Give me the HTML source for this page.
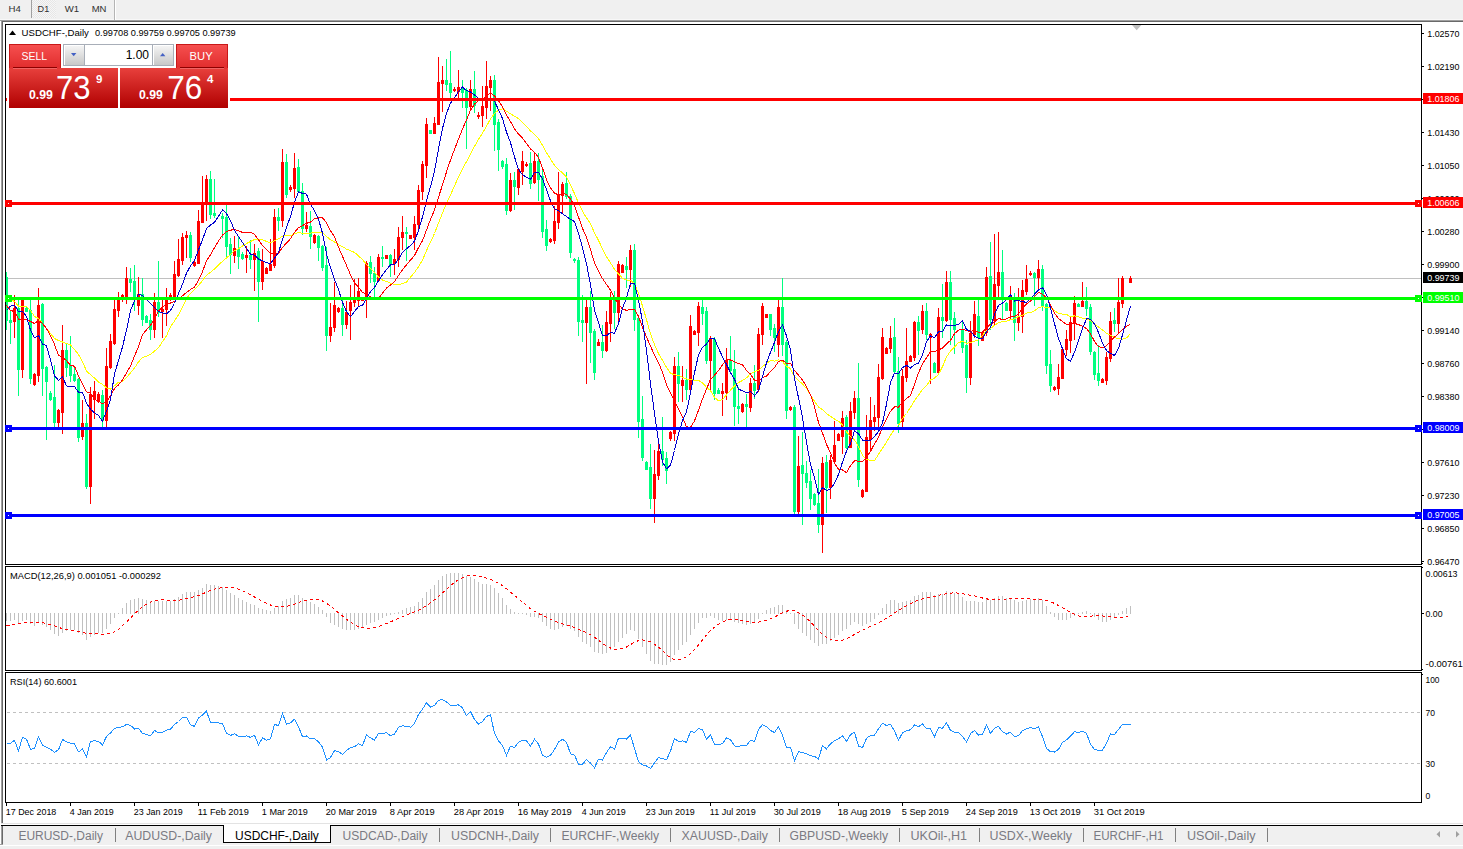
<!DOCTYPE html>
<html><head><meta charset="utf-8"><title>USDCHF-,Daily</title>
<style>html,body{margin:0;padding:0;background:#fff;overflow:hidden}svg{display:block}text{font-family:"Liberation Sans",sans-serif}</style></head><body>
<svg width="1463" height="849" viewBox="0 0 1463 849">
<defs><linearGradient id="rg" x1="0" y1="0" x2="0" y2="1"><stop offset="0" stop-color="#e8403c"/><stop offset="1" stop-color="#b00000"/></linearGradient><linearGradient id="rg2" x1="0" y1="0" x2="0" y2="1"><stop offset="0" stop-color="#f65050"/><stop offset="1" stop-color="#e02c2c"/></linearGradient><linearGradient id="bg" x1="0" y1="0" x2="0" y2="1"><stop offset="0" stop-color="#f4f4f4"/><stop offset="1" stop-color="#c8c8c8"/></linearGradient><pattern id="chk" width="2" height="2" patternUnits="userSpaceOnUse"><rect width="2" height="2" fill="#f6f6f6"/><rect width="1" height="1" fill="#e6e6e6"/><rect x="1" y="1" width="1" height="1" fill="#e6e6e6"/></pattern></defs>
<rect width="1463" height="849" fill="#fff"/>
<g id="toolbar" shape-rendering="crispEdges">
<rect x="0" y="0" width="1463" height="19" fill="#f0f0f0"/><rect x="0" y="19" width="1463" height="1" fill="#f8f8f8"/>
<rect x="0" y="20" width="1463" height="1" fill="#a0a0a0"/><rect x="1" y="21" width="1463" height="1" fill="#696969"/>
<rect x="32" y="0" width="24" height="18" fill="url(#chk)"/>
<rect x="31" y="0" width="1" height="18" fill="#a0a0a0"/><rect x="114" y="0" width="1" height="20" fill="#b4b4b4"/><rect x="115" y="0" width="1" height="20" fill="#fff"/>
</g>
<text x="8.6" y="12" font-size="9.8" fill="#303030" textLength="12.3" lengthAdjust="spacingAndGlyphs">H4</text>
<text x="37.6" y="12" font-size="9.8" fill="#303030" textLength="11.6" lengthAdjust="spacingAndGlyphs">D1</text>
<text x="64.8" y="12" font-size="9.8" fill="#303030" textLength="14.4" lengthAdjust="spacingAndGlyphs">W1</text>
<text x="91.7" y="12" font-size="9.8" fill="#303030" textLength="14.8" lengthAdjust="spacingAndGlyphs">MN</text>
<g shape-rendering="crispEdges">
<rect x="1" y="21" width="1" height="802" fill="#a0a0a0"/><rect x="2" y="22" width="1" height="801" fill="#696969"/>
<rect x="5" y="24" width="1417" height="1" fill="#000"/>
<rect x="5" y="24" width="1" height="779" fill="#000"/>
<rect x="1421" y="24" width="1" height="779" fill="#000"/>
<rect x="5" y="564" width="1417" height="1" fill="#000"/><rect x="5" y="566" width="1417" height="1" fill="#000"/>
<rect x="5" y="670" width="1417" height="1" fill="#000"/><rect x="5" y="672" width="1417" height="1" fill="#000"/>
<rect x="5" y="802" width="1417" height="1" fill="#000"/>
<rect x="5" y="565" width="1417" height="1" fill="#fff"/><rect x="5" y="671" width="1417" height="1" fill="#fff"/>
<rect x="1422" y="563" width="1" height="1" fill="#000"/><rect x="1422" y="567" width="1" height="1" fill="#000"/><rect x="1422" y="669" width="1" height="1" fill="#000"/><rect x="1422" y="674" width="1" height="1" fill="#000"/>
</g>
<g id="axis" shape-rendering="crispEdges">
<rect x="1422" y="33" width="2" height="1" fill="#000"/>
<rect x="1422" y="66" width="2" height="1" fill="#000"/>
<rect x="1422" y="99" width="2" height="1" fill="#000"/>
<rect x="1422" y="132" width="2" height="1" fill="#000"/>
<rect x="1422" y="165" width="2" height="1" fill="#000"/>
<rect x="1422" y="198" width="2" height="1" fill="#000"/>
<rect x="1422" y="231" width="2" height="1" fill="#000"/>
<rect x="1422" y="264" width="2" height="1" fill="#000"/>
<rect x="1422" y="297" width="2" height="1" fill="#000"/>
<rect x="1422" y="330" width="2" height="1" fill="#000"/>
<rect x="1422" y="363" width="2" height="1" fill="#000"/>
<rect x="1422" y="396" width="2" height="1" fill="#000"/>
<rect x="1422" y="429" width="2" height="1" fill="#000"/>
<rect x="1422" y="462" width="2" height="1" fill="#000"/>
<rect x="1422" y="495" width="2" height="1" fill="#000"/>
<rect x="1422" y="528" width="2" height="1" fill="#000"/>
<rect x="1422" y="561" width="2" height="1" fill="#000"/>
</g>
<text x="1427.2" y="36.9" font-size="9.4" fill="#000" textLength="32.3" lengthAdjust="spacingAndGlyphs">1.02570</text>
<text x="1427.2" y="69.9" font-size="9.4" fill="#000" textLength="32.3" lengthAdjust="spacingAndGlyphs">1.02190</text>
<text x="1427.2" y="102.9" font-size="9.4" fill="#000" textLength="32.3" lengthAdjust="spacingAndGlyphs">1.01810</text>
<text x="1427.2" y="135.9" font-size="9.4" fill="#000" textLength="32.3" lengthAdjust="spacingAndGlyphs">1.01430</text>
<text x="1427.2" y="168.9" font-size="9.4" fill="#000" textLength="32.3" lengthAdjust="spacingAndGlyphs">1.01050</text>
<text x="1427.2" y="201.9" font-size="9.4" fill="#000" textLength="32.3" lengthAdjust="spacingAndGlyphs">1.00660</text>
<text x="1427.2" y="234.9" font-size="9.4" fill="#000" textLength="32.3" lengthAdjust="spacingAndGlyphs">1.00280</text>
<text x="1427.2" y="267.9" font-size="9.4" fill="#000" textLength="32.3" lengthAdjust="spacingAndGlyphs">0.99900</text>
<text x="1427.2" y="300.9" font-size="9.4" fill="#000" textLength="32.3" lengthAdjust="spacingAndGlyphs">0.99520</text>
<text x="1427.2" y="333.9" font-size="9.4" fill="#000" textLength="32.3" lengthAdjust="spacingAndGlyphs">0.99140</text>
<text x="1427.2" y="366.9" font-size="9.4" fill="#000" textLength="32.3" lengthAdjust="spacingAndGlyphs">0.98760</text>
<text x="1427.2" y="399.9" font-size="9.4" fill="#000" textLength="32.3" lengthAdjust="spacingAndGlyphs">0.98380</text>
<text x="1427.2" y="432.9" font-size="9.4" fill="#000" textLength="32.3" lengthAdjust="spacingAndGlyphs">0.98000</text>
<text x="1427.2" y="465.9" font-size="9.4" fill="#000" textLength="32.3" lengthAdjust="spacingAndGlyphs">0.97610</text>
<text x="1427.2" y="498.9" font-size="9.4" fill="#000" textLength="32.3" lengthAdjust="spacingAndGlyphs">0.97230</text>
<text x="1427.2" y="531.9" font-size="9.4" fill="#000" textLength="32.3" lengthAdjust="spacingAndGlyphs">0.96850</text>
<text x="1427.2" y="564.9" font-size="9.4" fill="#000" textLength="32.3" lengthAdjust="spacingAndGlyphs">0.96470</text>
<rect x="6" y="278" width="1415" height="1" fill="#c0c0c0" shape-rendering="crispEdges"/>
<path d="M1132 25h9.4l-4.7 5.2z" fill="#c0c0c0"/>
<g id="candles" shape-rendering="crispEdges">
<rect x="6" y="272" width="1" height="58" fill="#00ff80"/>
<rect x="6" y="277" width="2" height="44" fill="#00ff80"/>
<rect x="10" y="311" width="1" height="33" fill="#00ff80"/>
<rect x="9" y="320" width="3" height="3" fill="#00ff80"/>
<rect x="14" y="295" width="1" height="43" fill="#ff0000"/>
<rect x="13" y="308" width="3" height="14" fill="#ff0000"/>
<rect x="18" y="300" width="1" height="96" fill="#00ff80"/>
<rect x="17" y="308" width="3" height="62" fill="#00ff80"/>
<rect x="22" y="297" width="1" height="81" fill="#ff0000"/>
<rect x="21" y="300" width="3" height="70" fill="#ff0000"/>
<rect x="26" y="307" width="1" height="5" fill="#00ff80"/>
<rect x="25" y="308" width="3" height="4" fill="#00ff80"/>
<rect x="30" y="300" width="1" height="84" fill="#00ff80"/>
<rect x="29" y="310" width="3" height="69" fill="#00ff80"/>
<rect x="34" y="373" width="1" height="13" fill="#ff0000"/>
<rect x="33" y="374" width="3" height="11" fill="#ff0000"/>
<rect x="38" y="288" width="1" height="94" fill="#ff0000"/>
<rect x="37" y="305" width="3" height="71" fill="#ff0000"/>
<rect x="42" y="303" width="1" height="93" fill="#00ff80"/>
<rect x="41" y="304" width="3" height="65" fill="#00ff80"/>
<rect x="46" y="366" width="1" height="74" fill="#00ff80"/>
<rect x="45" y="367" width="3" height="15" fill="#00ff80"/>
<rect x="50" y="391" width="1" height="10" fill="#00ff80"/>
<rect x="49" y="393" width="3" height="7" fill="#00ff80"/>
<rect x="54" y="365" width="1" height="63" fill="#00ff80"/>
<rect x="53" y="397" width="3" height="26" fill="#00ff80"/>
<rect x="58" y="409" width="1" height="18" fill="#ff0000"/>
<rect x="57" y="410" width="3" height="13" fill="#ff0000"/>
<rect x="62" y="325" width="1" height="109" fill="#ff0000"/>
<rect x="61" y="350" width="3" height="63" fill="#ff0000"/>
<rect x="66" y="343" width="1" height="34" fill="#00ff80"/>
<rect x="65" y="350" width="3" height="18" fill="#00ff80"/>
<rect x="70" y="336" width="1" height="46" fill="#00ff80"/>
<rect x="69" y="365" width="3" height="11" fill="#00ff80"/>
<rect x="74" y="367" width="1" height="15" fill="#00ff80"/>
<rect x="73" y="374" width="3" height="7" fill="#00ff80"/>
<rect x="78" y="378" width="1" height="64" fill="#00ff80"/>
<rect x="77" y="379" width="3" height="59" fill="#00ff80"/>
<rect x="82" y="400" width="1" height="40" fill="#ff0000"/>
<rect x="81" y="423" width="3" height="14" fill="#ff0000"/>
<rect x="86" y="414" width="1" height="75" fill="#00ff80"/>
<rect x="85" y="423" width="3" height="64" fill="#00ff80"/>
<rect x="90" y="387" width="1" height="117" fill="#ff0000"/>
<rect x="89" y="394" width="3" height="93" fill="#ff0000"/>
<rect x="94" y="381" width="1" height="38" fill="#ff0000"/>
<rect x="93" y="391" width="3" height="9" fill="#ff0000"/>
<rect x="98" y="392" width="1" height="11" fill="#ff0000"/>
<rect x="97" y="394" width="3" height="8" fill="#ff0000"/>
<rect x="102" y="390" width="1" height="38" fill="#00ff80"/>
<rect x="101" y="395" width="3" height="26" fill="#00ff80"/>
<rect x="106" y="348" width="1" height="80" fill="#ff0000"/>
<rect x="105" y="366" width="3" height="55" fill="#ff0000"/>
<rect x="110" y="334" width="1" height="35" fill="#ff0000"/>
<rect x="109" y="341" width="3" height="27" fill="#ff0000"/>
<rect x="114" y="297" width="1" height="48" fill="#ff0000"/>
<rect x="113" y="309" width="3" height="35" fill="#ff0000"/>
<rect x="118" y="292" width="1" height="25" fill="#ff0000"/>
<rect x="117" y="299" width="3" height="12" fill="#ff0000"/>
<rect x="122" y="294" width="1" height="8" fill="#ff0000"/>
<rect x="121" y="295" width="3" height="5" fill="#ff0000"/>
<rect x="126" y="267" width="1" height="37" fill="#ff0000"/>
<rect x="125" y="278" width="3" height="19" fill="#ff0000"/>
<rect x="130" y="268" width="1" height="24" fill="#00ff80"/>
<rect x="129" y="279" width="3" height="4" fill="#00ff80"/>
<rect x="134" y="265" width="1" height="46" fill="#00ff80"/>
<rect x="133" y="281" width="3" height="19" fill="#00ff80"/>
<rect x="138" y="277" width="1" height="38" fill="#ff0000"/>
<rect x="137" y="294" width="3" height="12" fill="#ff0000"/>
<rect x="142" y="278" width="1" height="48" fill="#00ff80"/>
<rect x="141" y="294" width="3" height="26" fill="#00ff80"/>
<rect x="146" y="315" width="1" height="8" fill="#00ff80"/>
<rect x="145" y="316" width="3" height="7" fill="#00ff80"/>
<rect x="150" y="314" width="1" height="26" fill="#00ff80"/>
<rect x="149" y="320" width="3" height="10" fill="#00ff80"/>
<rect x="154" y="293" width="1" height="45" fill="#ff0000"/>
<rect x="153" y="302" width="3" height="28" fill="#ff0000"/>
<rect x="158" y="261" width="1" height="56" fill="#00ff80"/>
<rect x="157" y="302" width="3" height="11" fill="#00ff80"/>
<rect x="162" y="300" width="1" height="38" fill="#ff0000"/>
<rect x="161" y="309" width="3" height="3" fill="#ff0000"/>
<rect x="166" y="288" width="1" height="38" fill="#ff0000"/>
<rect x="165" y="300" width="3" height="10" fill="#ff0000"/>
<rect x="170" y="293" width="1" height="8" fill="#ff0000"/>
<rect x="169" y="295" width="3" height="4" fill="#ff0000"/>
<rect x="174" y="261" width="1" height="37" fill="#ff0000"/>
<rect x="173" y="274" width="3" height="24" fill="#ff0000"/>
<rect x="178" y="239" width="1" height="38" fill="#ff0000"/>
<rect x="177" y="259" width="3" height="17" fill="#ff0000"/>
<rect x="182" y="233" width="1" height="32" fill="#ff0000"/>
<rect x="181" y="237" width="3" height="24" fill="#ff0000"/>
<rect x="186" y="231" width="1" height="27" fill="#ff0000"/>
<rect x="185" y="235" width="3" height="3" fill="#ff0000"/>
<rect x="190" y="232" width="1" height="30" fill="#00ff80"/>
<rect x="189" y="235" width="3" height="23" fill="#00ff80"/>
<rect x="194" y="261" width="1" height="6" fill="#ff0000"/>
<rect x="193" y="262" width="3" height="4" fill="#ff0000"/>
<rect x="198" y="210" width="1" height="54" fill="#ff0000"/>
<rect x="197" y="221" width="3" height="43" fill="#ff0000"/>
<rect x="202" y="176" width="1" height="47" fill="#ff0000"/>
<rect x="201" y="204" width="3" height="19" fill="#ff0000"/>
<rect x="206" y="175" width="1" height="46" fill="#ff0000"/>
<rect x="205" y="179" width="3" height="26" fill="#ff0000"/>
<rect x="210" y="171" width="1" height="48" fill="#00ff80"/>
<rect x="209" y="179" width="3" height="36" fill="#00ff80"/>
<rect x="214" y="179" width="1" height="39" fill="#00ff80"/>
<rect x="213" y="213" width="3" height="3" fill="#00ff80"/>
<rect x="222" y="213" width="1" height="25" fill="#00ff80"/>
<rect x="221" y="216" width="3" height="3" fill="#00ff80"/>
<rect x="226" y="205" width="1" height="52" fill="#00ff80"/>
<rect x="225" y="217" width="3" height="30" fill="#00ff80"/>
<rect x="230" y="238" width="1" height="36" fill="#00ff80"/>
<rect x="229" y="244" width="3" height="11" fill="#00ff80"/>
<rect x="234" y="236" width="1" height="27" fill="#ff0000"/>
<rect x="233" y="248" width="3" height="8" fill="#ff0000"/>
<rect x="238" y="237" width="1" height="32" fill="#00ff80"/>
<rect x="237" y="249" width="3" height="8" fill="#00ff80"/>
<rect x="242" y="252" width="1" height="8" fill="#00ff80"/>
<rect x="241" y="254" width="3" height="5" fill="#00ff80"/>
<rect x="246" y="246" width="1" height="27" fill="#ff0000"/>
<rect x="245" y="255" width="3" height="3" fill="#ff0000"/>
<rect x="250" y="240" width="1" height="29" fill="#00ff80"/>
<rect x="249" y="255" width="3" height="5" fill="#00ff80"/>
<rect x="254" y="244" width="1" height="47" fill="#ff0000"/>
<rect x="253" y="253" width="3" height="7" fill="#ff0000"/>
<rect x="258" y="248" width="1" height="74" fill="#00ff80"/>
<rect x="257" y="251" width="3" height="31" fill="#00ff80"/>
<rect x="262" y="249" width="1" height="41" fill="#ff0000"/>
<rect x="261" y="261" width="3" height="21" fill="#ff0000"/>
<rect x="266" y="267" width="1" height="7" fill="#ff0000"/>
<rect x="265" y="268" width="3" height="6" fill="#ff0000"/>
<rect x="270" y="239" width="1" height="32" fill="#ff0000"/>
<rect x="269" y="264" width="3" height="7" fill="#ff0000"/>
<rect x="274" y="209" width="1" height="59" fill="#ff0000"/>
<rect x="273" y="217" width="3" height="49" fill="#ff0000"/>
<rect x="278" y="208" width="1" height="23" fill="#00ff80"/>
<rect x="277" y="217" width="3" height="4" fill="#00ff80"/>
<rect x="282" y="149" width="1" height="78" fill="#ff0000"/>
<rect x="281" y="162" width="3" height="59" fill="#ff0000"/>
<rect x="286" y="154" width="1" height="44" fill="#00ff80"/>
<rect x="285" y="162" width="3" height="33" fill="#00ff80"/>
<rect x="290" y="185" width="1" height="7" fill="#ff0000"/>
<rect x="289" y="187" width="3" height="3" fill="#ff0000"/>
<rect x="294" y="153" width="1" height="45" fill="#ff0000"/>
<rect x="293" y="168" width="3" height="21" fill="#ff0000"/>
<rect x="298" y="159" width="1" height="34" fill="#00ff80"/>
<rect x="297" y="167" width="3" height="25" fill="#00ff80"/>
<rect x="302" y="183" width="1" height="52" fill="#00ff80"/>
<rect x="301" y="191" width="3" height="38" fill="#00ff80"/>
<rect x="306" y="212" width="1" height="20" fill="#ff0000"/>
<rect x="305" y="225" width="3" height="4" fill="#ff0000"/>
<rect x="310" y="211" width="1" height="38" fill="#00ff80"/>
<rect x="309" y="226" width="3" height="11" fill="#00ff80"/>
<rect x="314" y="234" width="1" height="10" fill="#ff0000"/>
<rect x="313" y="235" width="3" height="8" fill="#ff0000"/>
<rect x="318" y="235" width="1" height="26" fill="#00ff80"/>
<rect x="317" y="236" width="3" height="12" fill="#00ff80"/>
<rect x="322" y="245" width="1" height="26" fill="#00ff80"/>
<rect x="321" y="246" width="3" height="22" fill="#00ff80"/>
<rect x="326" y="247" width="1" height="104" fill="#00ff80"/>
<rect x="325" y="265" width="3" height="71" fill="#00ff80"/>
<rect x="330" y="303" width="1" height="39" fill="#ff0000"/>
<rect x="329" y="327" width="3" height="9" fill="#ff0000"/>
<rect x="334" y="282" width="1" height="50" fill="#ff0000"/>
<rect x="333" y="305" width="3" height="23" fill="#ff0000"/>
<rect x="338" y="307" width="1" height="6" fill="#ff0000"/>
<rect x="337" y="308" width="3" height="4" fill="#ff0000"/>
<rect x="342" y="300" width="1" height="36" fill="#00ff80"/>
<rect x="341" y="308" width="3" height="17" fill="#00ff80"/>
<rect x="346" y="301" width="1" height="28" fill="#ff0000"/>
<rect x="345" y="312" width="3" height="13" fill="#ff0000"/>
<rect x="350" y="285" width="1" height="55" fill="#ff0000"/>
<rect x="349" y="302" width="3" height="9" fill="#ff0000"/>
<rect x="354" y="279" width="1" height="28" fill="#ff0000"/>
<rect x="353" y="300" width="3" height="3" fill="#ff0000"/>
<rect x="358" y="278" width="1" height="28" fill="#ff0000"/>
<rect x="357" y="291" width="3" height="10" fill="#ff0000"/>
<rect x="362" y="297" width="1" height="4" fill="#ff0000"/>
<rect x="361" y="297" width="3" height="4" fill="#ff0000"/>
<rect x="366" y="261" width="1" height="57" fill="#ff0000"/>
<rect x="365" y="263" width="3" height="34" fill="#ff0000"/>
<rect x="370" y="256" width="1" height="27" fill="#00ff80"/>
<rect x="369" y="262" width="3" height="12" fill="#00ff80"/>
<rect x="374" y="267" width="1" height="32" fill="#00ff80"/>
<rect x="373" y="273" width="3" height="9" fill="#00ff80"/>
<rect x="378" y="254" width="1" height="28" fill="#ff0000"/>
<rect x="377" y="257" width="3" height="24" fill="#ff0000"/>
<rect x="382" y="246" width="1" height="21" fill="#00ff80"/>
<rect x="381" y="257" width="3" height="2" fill="#00ff80"/>
<rect x="386" y="255" width="1" height="4" fill="#ff0000"/>
<rect x="385" y="255" width="3" height="4" fill="#ff0000"/>
<rect x="390" y="254" width="1" height="23" fill="#00ff80"/>
<rect x="389" y="255" width="3" height="10" fill="#00ff80"/>
<rect x="394" y="249" width="1" height="26" fill="#ff0000"/>
<rect x="393" y="259" width="3" height="5" fill="#ff0000"/>
<rect x="398" y="227" width="1" height="40" fill="#ff0000"/>
<rect x="397" y="237" width="3" height="23" fill="#ff0000"/>
<rect x="402" y="216" width="1" height="34" fill="#ff0000"/>
<rect x="401" y="232" width="3" height="6" fill="#ff0000"/>
<rect x="406" y="227" width="1" height="34" fill="#00ff80"/>
<rect x="405" y="232" width="3" height="2" fill="#00ff80"/>
<rect x="410" y="235" width="1" height="4" fill="#ff0000"/>
<rect x="409" y="235" width="3" height="4" fill="#ff0000"/>
<rect x="414" y="216" width="1" height="34" fill="#ff0000"/>
<rect x="413" y="224" width="3" height="14" fill="#ff0000"/>
<rect x="418" y="185" width="1" height="46" fill="#ff0000"/>
<rect x="417" y="190" width="3" height="35" fill="#ff0000"/>
<rect x="422" y="161" width="1" height="39" fill="#ff0000"/>
<rect x="421" y="164" width="3" height="28" fill="#ff0000"/>
<rect x="426" y="118" width="1" height="60" fill="#ff0000"/>
<rect x="425" y="124" width="3" height="42" fill="#ff0000"/>
<rect x="430" y="130" width="1" height="4" fill="#00ff80"/>
<rect x="429" y="130" width="3" height="4" fill="#00ff80"/>
<rect x="434" y="117" width="1" height="17" fill="#ff0000"/>
<rect x="433" y="123" width="3" height="11" fill="#ff0000"/>
<rect x="438" y="57" width="1" height="68" fill="#ff0000"/>
<rect x="437" y="82" width="3" height="43" fill="#ff0000"/>
<rect x="442" y="66" width="1" height="46" fill="#ff0000"/>
<rect x="441" y="80" width="3" height="4" fill="#ff0000"/>
<rect x="446" y="59" width="1" height="32" fill="#00ff80"/>
<rect x="445" y="80" width="3" height="5" fill="#00ff80"/>
<rect x="450" y="51" width="1" height="49" fill="#00ff80"/>
<rect x="449" y="83" width="3" height="10" fill="#00ff80"/>
<rect x="454" y="87" width="1" height="5" fill="#ff0000"/>
<rect x="453" y="89" width="3" height="2" fill="#ff0000"/>
<rect x="458" y="70" width="1" height="28" fill="#ff0000"/>
<rect x="457" y="87" width="3" height="5" fill="#ff0000"/>
<rect x="462" y="80" width="1" height="28" fill="#00ff80"/>
<rect x="461" y="87" width="3" height="6" fill="#00ff80"/>
<rect x="466" y="88" width="1" height="61" fill="#00ff80"/>
<rect x="465" y="90" width="3" height="18" fill="#00ff80"/>
<rect x="470" y="80" width="1" height="29" fill="#ff0000"/>
<rect x="469" y="89" width="3" height="18" fill="#ff0000"/>
<rect x="474" y="71" width="1" height="42" fill="#00ff80"/>
<rect x="473" y="89" width="3" height="17" fill="#00ff80"/>
<rect x="478" y="112" width="1" height="7" fill="#ff0000"/>
<rect x="477" y="115" width="3" height="2" fill="#ff0000"/>
<rect x="482" y="86" width="1" height="41" fill="#ff0000"/>
<rect x="481" y="106" width="3" height="10" fill="#ff0000"/>
<rect x="486" y="61" width="1" height="58" fill="#ff0000"/>
<rect x="485" y="86" width="3" height="22" fill="#ff0000"/>
<rect x="490" y="76" width="1" height="35" fill="#ff0000"/>
<rect x="489" y="80" width="3" height="8" fill="#ff0000"/>
<rect x="494" y="75" width="1" height="76" fill="#00ff80"/>
<rect x="493" y="80" width="3" height="45" fill="#00ff80"/>
<rect x="498" y="119" width="1" height="52" fill="#00ff80"/>
<rect x="497" y="122" width="3" height="28" fill="#00ff80"/>
<rect x="502" y="160" width="1" height="9" fill="#00ff80"/>
<rect x="501" y="161" width="3" height="6" fill="#00ff80"/>
<rect x="506" y="158" width="1" height="57" fill="#00ff80"/>
<rect x="505" y="164" width="3" height="47" fill="#00ff80"/>
<rect x="510" y="173" width="1" height="39" fill="#ff0000"/>
<rect x="509" y="180" width="3" height="31" fill="#ff0000"/>
<rect x="514" y="172" width="1" height="38" fill="#00ff80"/>
<rect x="513" y="180" width="3" height="7" fill="#00ff80"/>
<rect x="518" y="168" width="1" height="27" fill="#ff0000"/>
<rect x="517" y="169" width="3" height="19" fill="#ff0000"/>
<rect x="522" y="151" width="1" height="34" fill="#ff0000"/>
<rect x="521" y="161" width="3" height="11" fill="#ff0000"/>
<rect x="526" y="162" width="1" height="5" fill="#ff0000"/>
<rect x="525" y="164" width="3" height="2" fill="#ff0000"/>
<rect x="530" y="152" width="1" height="37" fill="#00ff80"/>
<rect x="529" y="163" width="3" height="21" fill="#00ff80"/>
<rect x="534" y="153" width="1" height="31" fill="#ff0000"/>
<rect x="533" y="161" width="3" height="22" fill="#ff0000"/>
<rect x="538" y="153" width="1" height="48" fill="#00ff80"/>
<rect x="537" y="161" width="3" height="19" fill="#00ff80"/>
<rect x="542" y="170" width="1" height="68" fill="#00ff80"/>
<rect x="541" y="176" width="3" height="56" fill="#00ff80"/>
<rect x="546" y="220" width="1" height="31" fill="#00ff80"/>
<rect x="545" y="229" width="3" height="17" fill="#00ff80"/>
<rect x="550" y="238" width="1" height="5" fill="#ff0000"/>
<rect x="549" y="239" width="3" height="3" fill="#ff0000"/>
<rect x="554" y="206" width="1" height="38" fill="#ff0000"/>
<rect x="553" y="221" width="3" height="20" fill="#ff0000"/>
<rect x="558" y="172" width="1" height="57" fill="#ff0000"/>
<rect x="557" y="195" width="3" height="28" fill="#ff0000"/>
<rect x="562" y="182" width="1" height="32" fill="#ff0000"/>
<rect x="561" y="184" width="3" height="12" fill="#ff0000"/>
<rect x="566" y="172" width="1" height="27" fill="#00ff80"/>
<rect x="565" y="183" width="3" height="14" fill="#00ff80"/>
<rect x="570" y="194" width="1" height="64" fill="#00ff80"/>
<rect x="569" y="196" width="3" height="57" fill="#00ff80"/>
<rect x="574" y="258" width="1" height="5" fill="#00ff80"/>
<rect x="573" y="259" width="3" height="2" fill="#00ff80"/>
<rect x="578" y="257" width="1" height="79" fill="#00ff80"/>
<rect x="577" y="260" width="3" height="62" fill="#00ff80"/>
<rect x="582" y="295" width="1" height="47" fill="#00ff80"/>
<rect x="581" y="320" width="3" height="3" fill="#00ff80"/>
<rect x="586" y="300" width="1" height="84" fill="#ff0000"/>
<rect x="585" y="307" width="3" height="16" fill="#ff0000"/>
<rect x="590" y="291" width="1" height="72" fill="#00ff80"/>
<rect x="589" y="307" width="3" height="26" fill="#00ff80"/>
<rect x="594" y="329" width="1" height="51" fill="#00ff80"/>
<rect x="593" y="331" width="3" height="42" fill="#00ff80"/>
<rect x="598" y="339" width="1" height="7" fill="#ff0000"/>
<rect x="597" y="342" width="3" height="4" fill="#ff0000"/>
<rect x="602" y="325" width="1" height="33" fill="#00ff80"/>
<rect x="601" y="342" width="3" height="9" fill="#00ff80"/>
<rect x="606" y="311" width="1" height="41" fill="#ff0000"/>
<rect x="605" y="322" width="3" height="29" fill="#ff0000"/>
<rect x="610" y="292" width="1" height="50" fill="#ff0000"/>
<rect x="609" y="299" width="3" height="25" fill="#ff0000"/>
<rect x="614" y="291" width="1" height="38" fill="#00ff80"/>
<rect x="613" y="300" width="3" height="13" fill="#00ff80"/>
<rect x="618" y="261" width="1" height="61" fill="#ff0000"/>
<rect x="617" y="264" width="3" height="49" fill="#ff0000"/>
<rect x="622" y="264" width="1" height="9" fill="#ff0000"/>
<rect x="621" y="265" width="3" height="8" fill="#ff0000"/>
<rect x="626" y="257" width="1" height="31" fill="#00ff80"/>
<rect x="625" y="266" width="3" height="4" fill="#00ff80"/>
<rect x="630" y="245" width="1" height="42" fill="#ff0000"/>
<rect x="629" y="250" width="3" height="20" fill="#ff0000"/>
<rect x="634" y="244" width="1" height="87" fill="#00ff80"/>
<rect x="633" y="250" width="3" height="70" fill="#00ff80"/>
<rect x="638" y="316" width="1" height="122" fill="#00ff80"/>
<rect x="637" y="318" width="3" height="104" fill="#00ff80"/>
<rect x="642" y="396" width="1" height="65" fill="#00ff80"/>
<rect x="641" y="419" width="3" height="39" fill="#00ff80"/>
<rect x="646" y="461" width="1" height="9" fill="#00ff80"/>
<rect x="645" y="462" width="3" height="8" fill="#00ff80"/>
<rect x="650" y="444" width="1" height="65" fill="#00ff80"/>
<rect x="649" y="467" width="3" height="32" fill="#00ff80"/>
<rect x="654" y="450" width="1" height="73" fill="#ff0000"/>
<rect x="653" y="474" width="3" height="25" fill="#ff0000"/>
<rect x="658" y="443" width="1" height="37" fill="#ff0000"/>
<rect x="657" y="451" width="3" height="25" fill="#ff0000"/>
<rect x="662" y="417" width="1" height="49" fill="#00ff80"/>
<rect x="661" y="451" width="3" height="9" fill="#00ff80"/>
<rect x="666" y="452" width="1" height="32" fill="#00ff80"/>
<rect x="665" y="458" width="3" height="13" fill="#00ff80"/>
<rect x="670" y="431" width="1" height="10" fill="#ff0000"/>
<rect x="669" y="432" width="3" height="7" fill="#ff0000"/>
<rect x="674" y="357" width="1" height="84" fill="#ff0000"/>
<rect x="673" y="366" width="3" height="68" fill="#ff0000"/>
<rect x="678" y="352" width="1" height="50" fill="#00ff80"/>
<rect x="677" y="366" width="3" height="18" fill="#00ff80"/>
<rect x="682" y="366" width="1" height="36" fill="#ff0000"/>
<rect x="681" y="380" width="3" height="6" fill="#ff0000"/>
<rect x="686" y="369" width="1" height="31" fill="#00ff80"/>
<rect x="685" y="380" width="3" height="10" fill="#00ff80"/>
<rect x="690" y="315" width="1" height="76" fill="#ff0000"/>
<rect x="689" y="326" width="3" height="64" fill="#ff0000"/>
<rect x="694" y="330" width="1" height="5" fill="#ff0000"/>
<rect x="693" y="331" width="3" height="4" fill="#ff0000"/>
<rect x="698" y="302" width="1" height="44" fill="#ff0000"/>
<rect x="697" y="306" width="3" height="27" fill="#ff0000"/>
<rect x="702" y="300" width="1" height="25" fill="#00ff80"/>
<rect x="701" y="307" width="3" height="7" fill="#00ff80"/>
<rect x="706" y="307" width="1" height="57" fill="#00ff80"/>
<rect x="705" y="311" width="3" height="50" fill="#00ff80"/>
<rect x="710" y="336" width="1" height="54" fill="#ff0000"/>
<rect x="709" y="338" width="3" height="23" fill="#ff0000"/>
<rect x="714" y="337" width="1" height="63" fill="#00ff80"/>
<rect x="713" y="339" width="3" height="55" fill="#00ff80"/>
<rect x="718" y="388" width="1" height="6" fill="#00ff80"/>
<rect x="717" y="390" width="3" height="4" fill="#00ff80"/>
<rect x="722" y="383" width="1" height="33" fill="#ff0000"/>
<rect x="721" y="391" width="3" height="3" fill="#ff0000"/>
<rect x="726" y="348" width="1" height="52" fill="#ff0000"/>
<rect x="725" y="360" width="3" height="33" fill="#ff0000"/>
<rect x="730" y="336" width="1" height="37" fill="#00ff80"/>
<rect x="729" y="360" width="3" height="11" fill="#00ff80"/>
<rect x="734" y="350" width="1" height="76" fill="#00ff80"/>
<rect x="733" y="369" width="3" height="38" fill="#00ff80"/>
<rect x="738" y="387" width="1" height="37" fill="#00ff80"/>
<rect x="737" y="406" width="3" height="3" fill="#00ff80"/>
<rect x="742" y="403" width="1" height="10" fill="#ff0000"/>
<rect x="741" y="404" width="3" height="8" fill="#ff0000"/>
<rect x="746" y="394" width="1" height="34" fill="#00ff80"/>
<rect x="745" y="404" width="3" height="3" fill="#00ff80"/>
<rect x="750" y="378" width="1" height="34" fill="#ff0000"/>
<rect x="749" y="383" width="3" height="25" fill="#ff0000"/>
<rect x="754" y="365" width="1" height="34" fill="#00ff80"/>
<rect x="753" y="383" width="3" height="8" fill="#00ff80"/>
<rect x="758" y="328" width="1" height="64" fill="#ff0000"/>
<rect x="757" y="334" width="3" height="56" fill="#ff0000"/>
<rect x="762" y="303" width="1" height="42" fill="#ff0000"/>
<rect x="761" y="306" width="3" height="29" fill="#ff0000"/>
<rect x="766" y="314" width="1" height="4" fill="#ff0000"/>
<rect x="765" y="314" width="3" height="4" fill="#ff0000"/>
<rect x="770" y="314" width="1" height="22" fill="#00ff80"/>
<rect x="769" y="314" width="3" height="16" fill="#00ff80"/>
<rect x="774" y="324" width="1" height="28" fill="#00ff80"/>
<rect x="773" y="328" width="3" height="10" fill="#00ff80"/>
<rect x="778" y="300" width="1" height="57" fill="#ff0000"/>
<rect x="777" y="307" width="3" height="38" fill="#ff0000"/>
<rect x="782" y="278" width="1" height="78" fill="#00ff80"/>
<rect x="781" y="307" width="3" height="38" fill="#00ff80"/>
<rect x="786" y="340" width="1" height="79" fill="#00ff80"/>
<rect x="785" y="342" width="3" height="69" fill="#00ff80"/>
<rect x="790" y="406" width="1" height="5" fill="#ff0000"/>
<rect x="789" y="407" width="3" height="3" fill="#ff0000"/>
<rect x="794" y="405" width="1" height="110" fill="#00ff80"/>
<rect x="793" y="407" width="3" height="105" fill="#00ff80"/>
<rect x="798" y="436" width="1" height="78" fill="#ff0000"/>
<rect x="797" y="466" width="3" height="46" fill="#ff0000"/>
<rect x="802" y="432" width="1" height="93" fill="#00ff80"/>
<rect x="801" y="465" width="3" height="9" fill="#00ff80"/>
<rect x="806" y="461" width="1" height="27" fill="#00ff80"/>
<rect x="805" y="473" width="3" height="10" fill="#00ff80"/>
<rect x="810" y="470" width="1" height="40" fill="#00ff80"/>
<rect x="809" y="481" width="3" height="18" fill="#00ff80"/>
<rect x="814" y="493" width="1" height="13" fill="#00ff80"/>
<rect x="813" y="494" width="3" height="11" fill="#00ff80"/>
<rect x="818" y="469" width="1" height="64" fill="#00ff80"/>
<rect x="817" y="503" width="3" height="22" fill="#00ff80"/>
<rect x="822" y="457" width="1" height="96" fill="#ff0000"/>
<rect x="821" y="463" width="3" height="62" fill="#ff0000"/>
<rect x="826" y="455" width="1" height="58" fill="#00ff80"/>
<rect x="825" y="462" width="3" height="26" fill="#00ff80"/>
<rect x="830" y="455" width="1" height="44" fill="#ff0000"/>
<rect x="829" y="460" width="3" height="28" fill="#ff0000"/>
<rect x="834" y="421" width="1" height="42" fill="#ff0000"/>
<rect x="833" y="445" width="3" height="17" fill="#ff0000"/>
<rect x="838" y="433" width="1" height="8" fill="#ff0000"/>
<rect x="837" y="434" width="3" height="7" fill="#ff0000"/>
<rect x="842" y="411" width="1" height="43" fill="#ff0000"/>
<rect x="841" y="418" width="3" height="19" fill="#ff0000"/>
<rect x="846" y="415" width="1" height="34" fill="#00ff80"/>
<rect x="845" y="417" width="3" height="31" fill="#00ff80"/>
<rect x="850" y="402" width="1" height="46" fill="#ff0000"/>
<rect x="849" y="411" width="3" height="37" fill="#ff0000"/>
<rect x="854" y="391" width="1" height="28" fill="#ff0000"/>
<rect x="853" y="398" width="3" height="15" fill="#ff0000"/>
<rect x="858" y="363" width="1" height="124" fill="#00ff80"/>
<rect x="857" y="398" width="3" height="82" fill="#00ff80"/>
<rect x="862" y="489" width="1" height="9" fill="#ff0000"/>
<rect x="861" y="490" width="3" height="7" fill="#ff0000"/>
<rect x="866" y="415" width="1" height="77" fill="#ff0000"/>
<rect x="865" y="437" width="3" height="55" fill="#ff0000"/>
<rect x="870" y="397" width="1" height="54" fill="#ff0000"/>
<rect x="869" y="420" width="3" height="20" fill="#ff0000"/>
<rect x="874" y="405" width="1" height="26" fill="#ff0000"/>
<rect x="873" y="417" width="3" height="5" fill="#ff0000"/>
<rect x="878" y="364" width="1" height="67" fill="#ff0000"/>
<rect x="877" y="377" width="3" height="41" fill="#ff0000"/>
<rect x="882" y="328" width="1" height="52" fill="#ff0000"/>
<rect x="881" y="337" width="3" height="42" fill="#ff0000"/>
<rect x="886" y="347" width="1" height="7" fill="#ff0000"/>
<rect x="885" y="348" width="3" height="6" fill="#ff0000"/>
<rect x="890" y="326" width="1" height="27" fill="#ff0000"/>
<rect x="889" y="338" width="3" height="11" fill="#ff0000"/>
<rect x="894" y="318" width="1" height="56" fill="#00ff80"/>
<rect x="893" y="337" width="3" height="35" fill="#00ff80"/>
<rect x="898" y="357" width="1" height="76" fill="#00ff80"/>
<rect x="897" y="371" width="3" height="53" fill="#00ff80"/>
<rect x="902" y="369" width="1" height="58" fill="#ff0000"/>
<rect x="901" y="376" width="3" height="46" fill="#ff0000"/>
<rect x="906" y="328" width="1" height="54" fill="#ff0000"/>
<rect x="905" y="361" width="3" height="17" fill="#ff0000"/>
<rect x="910" y="355" width="1" height="7" fill="#ff0000"/>
<rect x="909" y="356" width="3" height="6" fill="#ff0000"/>
<rect x="914" y="321" width="1" height="40" fill="#ff0000"/>
<rect x="913" y="322" width="3" height="36" fill="#ff0000"/>
<rect x="918" y="316" width="1" height="39" fill="#00ff80"/>
<rect x="917" y="322" width="3" height="9" fill="#00ff80"/>
<rect x="922" y="305" width="1" height="29" fill="#ff0000"/>
<rect x="921" y="311" width="3" height="19" fill="#ff0000"/>
<rect x="926" y="303" width="1" height="37" fill="#00ff80"/>
<rect x="925" y="311" width="3" height="24" fill="#00ff80"/>
<rect x="930" y="333" width="1" height="51" fill="#ff0000"/>
<rect x="929" y="334" width="3" height="4" fill="#ff0000"/>
<rect x="934" y="362" width="1" height="11" fill="#00ff80"/>
<rect x="933" y="363" width="3" height="10" fill="#00ff80"/>
<rect x="938" y="308" width="1" height="67" fill="#ff0000"/>
<rect x="937" y="317" width="3" height="56" fill="#ff0000"/>
<rect x="942" y="284" width="1" height="54" fill="#00ff80"/>
<rect x="941" y="317" width="3" height="4" fill="#00ff80"/>
<rect x="946" y="271" width="1" height="51" fill="#ff0000"/>
<rect x="945" y="282" width="3" height="39" fill="#ff0000"/>
<rect x="950" y="271" width="1" height="74" fill="#00ff80"/>
<rect x="949" y="282" width="3" height="38" fill="#00ff80"/>
<rect x="954" y="312" width="1" height="42" fill="#00ff80"/>
<rect x="953" y="318" width="3" height="12" fill="#00ff80"/>
<rect x="962" y="321" width="1" height="32" fill="#00ff80"/>
<rect x="961" y="330" width="3" height="18" fill="#00ff80"/>
<rect x="966" y="340" width="1" height="53" fill="#00ff80"/>
<rect x="965" y="345" width="3" height="33" fill="#00ff80"/>
<rect x="970" y="321" width="1" height="64" fill="#ff0000"/>
<rect x="969" y="333" width="3" height="45" fill="#ff0000"/>
<rect x="974" y="301" width="1" height="37" fill="#ff0000"/>
<rect x="973" y="314" width="3" height="21" fill="#ff0000"/>
<rect x="978" y="300" width="1" height="46" fill="#00ff80"/>
<rect x="977" y="316" width="3" height="22" fill="#00ff80"/>
<rect x="982" y="331" width="1" height="10" fill="#ff0000"/>
<rect x="981" y="332" width="3" height="9" fill="#ff0000"/>
<rect x="986" y="267" width="1" height="69" fill="#ff0000"/>
<rect x="985" y="277" width="3" height="56" fill="#ff0000"/>
<rect x="990" y="242" width="1" height="88" fill="#00ff80"/>
<rect x="989" y="276" width="3" height="44" fill="#00ff80"/>
<rect x="994" y="234" width="1" height="92" fill="#ff0000"/>
<rect x="993" y="284" width="3" height="37" fill="#ff0000"/>
<rect x="998" y="232" width="1" height="66" fill="#ff0000"/>
<rect x="997" y="272" width="3" height="14" fill="#ff0000"/>
<rect x="1002" y="250" width="1" height="70" fill="#00ff80"/>
<rect x="1001" y="272" width="3" height="27" fill="#00ff80"/>
<rect x="1006" y="302" width="1" height="9" fill="#00ff80"/>
<rect x="1005" y="303" width="3" height="8" fill="#00ff80"/>
<rect x="1010" y="286" width="1" height="33" fill="#ff0000"/>
<rect x="1009" y="299" width="3" height="12" fill="#ff0000"/>
<rect x="1014" y="293" width="1" height="48" fill="#00ff80"/>
<rect x="1013" y="300" width="3" height="23" fill="#00ff80"/>
<rect x="1018" y="288" width="1" height="43" fill="#ff0000"/>
<rect x="1017" y="316" width="3" height="7" fill="#ff0000"/>
<rect x="1022" y="280" width="1" height="53" fill="#ff0000"/>
<rect x="1021" y="290" width="3" height="27" fill="#ff0000"/>
<rect x="1026" y="265" width="1" height="30" fill="#ff0000"/>
<rect x="1025" y="279" width="3" height="13" fill="#ff0000"/>
<rect x="1030" y="271" width="1" height="5" fill="#ff0000"/>
<rect x="1029" y="273" width="3" height="2" fill="#ff0000"/>
<rect x="1034" y="272" width="1" height="34" fill="#00ff80"/>
<rect x="1033" y="273" width="3" height="5" fill="#00ff80"/>
<rect x="1038" y="260" width="1" height="30" fill="#ff0000"/>
<rect x="1037" y="269" width="3" height="9" fill="#ff0000"/>
<rect x="1042" y="265" width="1" height="46" fill="#00ff80"/>
<rect x="1041" y="269" width="3" height="38" fill="#00ff80"/>
<rect x="1046" y="303" width="1" height="71" fill="#00ff80"/>
<rect x="1045" y="304" width="3" height="62" fill="#00ff80"/>
<rect x="1050" y="350" width="1" height="42" fill="#00ff80"/>
<rect x="1049" y="364" width="3" height="22" fill="#00ff80"/>
<rect x="1054" y="386" width="1" height="5" fill="#ff0000"/>
<rect x="1053" y="387" width="3" height="3" fill="#ff0000"/>
<rect x="1058" y="364" width="1" height="31" fill="#ff0000"/>
<rect x="1057" y="377" width="3" height="12" fill="#ff0000"/>
<rect x="1062" y="348" width="1" height="31" fill="#ff0000"/>
<rect x="1061" y="349" width="3" height="30" fill="#ff0000"/>
<rect x="1066" y="330" width="1" height="26" fill="#ff0000"/>
<rect x="1065" y="339" width="3" height="11" fill="#ff0000"/>
<rect x="1070" y="316" width="1" height="37" fill="#ff0000"/>
<rect x="1069" y="322" width="3" height="19" fill="#ff0000"/>
<rect x="1074" y="296" width="1" height="44" fill="#ff0000"/>
<rect x="1073" y="303" width="3" height="21" fill="#ff0000"/>
<rect x="1078" y="303" width="1" height="4" fill="#00ff80"/>
<rect x="1077" y="304" width="3" height="3" fill="#00ff80"/>
<rect x="1082" y="282" width="1" height="25" fill="#ff0000"/>
<rect x="1081" y="301" width="3" height="6" fill="#ff0000"/>
<rect x="1086" y="287" width="1" height="29" fill="#00ff80"/>
<rect x="1085" y="301" width="3" height="8" fill="#00ff80"/>
<rect x="1090" y="304" width="1" height="51" fill="#00ff80"/>
<rect x="1089" y="307" width="3" height="45" fill="#00ff80"/>
<rect x="1094" y="351" width="1" height="29" fill="#00ff80"/>
<rect x="1093" y="352" width="3" height="23" fill="#00ff80"/>
<rect x="1098" y="345" width="1" height="41" fill="#00ff80"/>
<rect x="1097" y="373" width="3" height="8" fill="#00ff80"/>
<rect x="1102" y="378" width="1" height="5" fill="#ff0000"/>
<rect x="1101" y="379" width="3" height="4" fill="#ff0000"/>
<rect x="1106" y="352" width="1" height="33" fill="#ff0000"/>
<rect x="1105" y="357" width="3" height="24" fill="#ff0000"/>
<rect x="1110" y="312" width="1" height="50" fill="#ff0000"/>
<rect x="1109" y="321" width="3" height="38" fill="#ff0000"/>
<rect x="1114" y="308" width="1" height="24" fill="#00ff80"/>
<rect x="1113" y="320" width="3" height="4" fill="#00ff80"/>
<rect x="1118" y="278" width="1" height="56" fill="#ff0000"/>
<rect x="1117" y="302" width="3" height="22" fill="#ff0000"/>
<rect x="1122" y="276" width="1" height="32" fill="#ff0000"/>
<rect x="1121" y="278" width="3" height="26" fill="#ff0000"/>
<rect x="1130" y="276" width="1" height="7" fill="#ff0000"/>
<rect x="1129" y="278" width="3" height="5" fill="#ff0000"/>
</g>
<polyline points="6.5,298.5 10.5,299.5 14.5,301.5 18.5,306.1 22.5,306.5 26.5,306.5 30.5,310.5 34.5,316.5 38.5,318.5 42.5,323.5 46.5,328.5 50.5,333.5 54.5,338.5 58.5,340.5 62.5,342.0 66.5,343.5 70.5,345.0 74.5,349.5 78.5,354.5 82.5,361.5 86.5,371.2 90.5,374.7 94.5,378.0 98.5,382.1 102.5,384.5 106.5,387.7 110.5,389.1 114.5,385.8 118.5,382.3 122.5,381.8 126.5,377.5 130.5,372.8 134.5,368.0 138.5,361.9 142.5,357.6 146.5,356.3 150.5,354.5 154.5,351.0 158.5,347.7 162.5,341.6 166.5,335.8 170.5,326.7 174.5,321.0 178.5,314.7 182.5,307.2 186.5,298.4 190.5,293.2 194.5,289.5 198.5,285.3 202.5,280.7 206.5,275.2 210.5,272.2 214.5,269.0 218.5,265.0 222.5,261.4 226.5,257.9 230.5,254.6 234.5,250.8 238.5,248.6 242.5,246.0 246.5,243.5 250.5,241.5 254.5,239.5 258.5,239.8 262.5,239.9 266.5,241.4 270.5,242.8 274.5,240.9 278.5,238.9 282.5,236.1 286.5,235.6 290.5,236.0 294.5,233.8 298.5,232.6 302.5,233.3 306.5,233.6 310.5,233.1 314.5,232.2 318.5,232.2 322.5,232.7 326.5,236.4 330.5,239.8 334.5,242.0 338.5,244.6 342.5,246.6 346.5,249.1 350.5,250.7 354.5,252.4 358.5,255.9 362.5,259.6 366.5,264.4 370.5,268.2 374.5,272.6 378.5,276.9 382.5,280.1 386.5,281.4 390.5,283.2 394.5,284.3 398.5,284.4 402.5,283.7 406.5,282.1 410.5,277.3 414.5,272.4 418.5,266.9 422.5,260.1 426.5,250.5 430.5,242.0 434.5,233.5 438.5,223.1 442.5,213.1 446.5,202.9 450.5,194.8 454.5,186.0 458.5,176.8 462.5,168.9 466.5,161.7 470.5,153.8 474.5,146.3 478.5,139.4 482.5,133.2 486.5,126.2 490.5,118.9 494.5,113.6 498.5,110.1 502.5,108.9 506.5,111.1 510.5,113.8 514.5,116.3 518.5,118.5 522.5,122.3 526.5,126.3 530.5,131.0 534.5,134.3 538.5,138.5 542.5,145.4 546.5,152.7 550.5,159.0 554.5,165.3 558.5,169.5 562.5,172.8 566.5,177.1 570.5,185.0 574.5,193.6 578.5,203.0 582.5,211.2 586.5,217.9 590.5,223.7 594.5,232.9 598.5,240.3 602.5,248.9 606.5,256.6 610.5,263.0 614.5,269.2 618.5,274.1 622.5,278.2 626.5,280.0 630.5,280.2 634.5,284.0 638.5,293.5 642.5,306.0 646.5,319.6 650.5,334.0 654.5,344.5 658.5,353.6 662.5,360.2 666.5,367.3 670.5,373.2 674.5,374.8 678.5,375.4 682.5,377.2 686.5,379.0 690.5,379.2 694.5,380.7 698.5,380.5 702.5,382.8 706.5,387.3 710.5,390.6 714.5,397.4 718.5,400.9 722.5,399.5 726.5,394.9 730.5,390.2 734.5,385.8 738.5,382.6 742.5,380.4 746.5,377.9 750.5,373.7 754.5,371.7 758.5,370.2 762.5,366.5 766.5,363.4 770.5,360.5 774.5,361.1 778.5,359.9 782.5,361.7 786.5,366.4 790.5,368.6 794.5,376.8 798.5,380.3 802.5,384.1 806.5,388.5 810.5,395.0 814.5,401.4 818.5,407.0 822.5,409.6 826.5,413.6 830.5,416.2 834.5,419.1 838.5,421.2 842.5,425.2 846.5,431.9 850.5,436.5 854.5,439.8 858.5,446.6 862.5,455.3 866.5,459.7 870.5,460.2 874.5,460.7 878.5,454.3 882.5,448.2 886.5,442.2 890.5,435.4 894.5,429.3 898.5,425.5 902.5,418.4 906.5,413.5 910.5,407.3 914.5,400.7 918.5,395.3 922.5,389.4 926.5,385.4 930.5,380.0 934.5,378.2 938.5,374.3 942.5,366.7 946.5,356.8 950.5,351.2 954.5,346.9 958.5,342.7 962.5,341.3 966.5,343.2 970.5,342.5 974.5,341.3 978.5,339.7 982.5,335.4 986.5,330.6 990.5,328.6 994.5,325.2 998.5,322.8 1002.5,321.3 1006.5,321.3 1010.5,319.6 1014.5,319.0 1018.5,316.4 1022.5,315.1 1026.5,313.1 1030.5,312.7 1034.5,310.7 1038.5,307.8 1042.5,306.7 1046.5,307.6 1050.5,308.0 1054.5,310.5 1058.5,313.5 1062.5,314.1 1066.5,314.5 1070.5,316.6 1074.5,315.8 1078.5,316.9 1082.5,318.3 1086.5,318.7 1090.5,320.7 1094.5,324.3 1098.5,327.0 1102.5,330.0 1106.5,333.2 1110.5,335.2 1114.5,337.6 1118.5,338.8 1122.5,339.2 1126.5,337.9 1130.5,333.7" fill="none" stroke="#ffff00" stroke-width="1" shape-rendering="crispEdges"/>
<polyline points="6.5,305.5 10.5,310.5 14.5,311.5 18.5,319.1 22.5,319.5 26.5,319.5 30.5,321.5 34.5,323.5 38.5,320.5 42.5,323.5 46.5,328.5 50.5,335.5 54.5,344.5 58.5,355.3 62.5,357.4 66.5,360.6 70.5,365.4 74.5,366.2 78.5,376.0 82.5,384.0 86.5,391.7 90.5,393.1 94.5,399.3 98.5,401.1 102.5,403.9 106.5,401.6 110.5,395.8 114.5,388.6 118.5,384.9 122.5,379.8 126.5,372.9 130.5,365.9 134.5,356.0 138.5,346.8 142.5,334.9 146.5,329.7 150.5,325.3 154.5,318.7 158.5,311.0 162.5,306.9 166.5,304.0 170.5,303.0 174.5,301.2 178.5,298.6 182.5,295.7 186.5,292.4 190.5,289.4 194.5,287.1 198.5,280.1 202.5,271.6 206.5,260.9 210.5,254.6 214.5,247.7 218.5,241.0 222.5,235.1 226.5,231.6 230.5,230.2 234.5,229.4 238.5,230.8 242.5,232.4 246.5,232.3 250.5,232.1 254.5,234.4 258.5,239.9 262.5,245.7 266.5,249.6 270.5,253.1 274.5,253.2 278.5,253.4 282.5,247.4 286.5,243.1 290.5,238.7 294.5,232.4 298.5,227.6 302.5,225.7 306.5,223.3 310.5,222.1 314.5,218.8 318.5,217.8 322.5,217.7 326.5,222.8 330.5,230.6 334.5,236.7 338.5,247.1 342.5,256.4 346.5,265.4 350.5,274.9 354.5,282.7 358.5,287.2 362.5,292.4 366.5,294.3 370.5,297.0 374.5,299.4 378.5,298.7 382.5,293.2 386.5,288.1 390.5,285.1 394.5,281.6 398.5,275.4 402.5,269.7 406.5,264.8 410.5,260.1 414.5,255.4 418.5,247.7 422.5,240.6 426.5,230.0 430.5,219.4 434.5,209.9 438.5,197.3 442.5,184.8 446.5,171.9 450.5,160.0 454.5,149.4 458.5,139.1 462.5,129.0 466.5,119.9 470.5,110.2 474.5,104.1 478.5,100.6 482.5,99.4 486.5,96.0 490.5,92.9 494.5,95.9 498.5,100.9 502.5,106.7 506.5,115.1 510.5,121.6 514.5,128.7 518.5,134.2 522.5,138.1 526.5,143.4 530.5,149.0 534.5,152.3 538.5,157.5 542.5,167.9 546.5,179.6 550.5,187.9 554.5,193.0 558.5,195.1 562.5,193.2 566.5,194.4 570.5,199.1 574.5,205.6 578.5,217.0 582.5,228.3 586.5,237.1 590.5,249.4 594.5,263.1 598.5,271.1 602.5,278.6 606.5,284.5 610.5,290.1 614.5,298.4 618.5,304.1 622.5,309.1 626.5,310.3 630.5,309.6 634.5,309.4 638.5,316.5 642.5,327.2 646.5,337.0 650.5,346.0 654.5,355.4 658.5,362.6 662.5,372.4 666.5,384.6 670.5,393.2 674.5,400.5 678.5,408.9 682.5,416.9 686.5,426.8 690.5,427.3 694.5,420.9 698.5,410.1 702.5,398.9 706.5,389.1 710.5,379.4 714.5,375.2 718.5,370.5 722.5,364.9 726.5,359.7 730.5,360.0 734.5,361.6 738.5,363.6 742.5,364.7 746.5,370.4 750.5,374.1 754.5,380.1 758.5,381.6 762.5,377.8 766.5,376.1 770.5,371.5 774.5,367.5 778.5,361.5 782.5,360.4 786.5,363.2 790.5,363.3 794.5,370.6 798.5,375.1 802.5,379.9 806.5,386.9 810.5,394.6 814.5,406.8 818.5,422.4 822.5,433.0 826.5,444.3 830.5,453.1 834.5,462.9 838.5,469.4 842.5,469.9 846.5,472.8 850.5,465.6 854.5,460.8 858.5,461.2 862.5,461.8 866.5,457.4 870.5,451.4 874.5,443.8 878.5,437.6 882.5,426.9 886.5,418.9 890.5,411.3 894.5,406.8 898.5,407.1 902.5,402.1 906.5,398.5 910.5,395.5 914.5,384.3 918.5,372.9 922.5,363.9 926.5,357.7 930.5,351.8 934.5,351.4 938.5,350.0 942.5,348.0 946.5,344.0 950.5,340.3 954.5,333.6 958.5,330.2 962.5,329.2 966.5,330.7 970.5,331.5 974.5,330.4 978.5,332.2 982.5,332.1 986.5,328.0 990.5,324.2 994.5,321.9 998.5,318.4 1002.5,319.6 1006.5,318.9 1010.5,316.8 1014.5,316.3 1018.5,314.1 1022.5,307.9 1026.5,304.0 1030.5,301.1 1034.5,296.8 1038.5,292.3 1042.5,294.4 1046.5,297.6 1050.5,304.9 1054.5,313.1 1058.5,318.7 1062.5,321.5 1066.5,324.4 1070.5,324.4 1074.5,323.4 1078.5,324.6 1082.5,326.1 1086.5,328.6 1090.5,333.9 1094.5,341.4 1098.5,346.7 1102.5,347.7 1106.5,345.7 1110.5,341.0 1114.5,337.1 1118.5,333.8 1122.5,329.4 1126.5,326.3 1130.5,324.5" fill="none" stroke="#ff0000" stroke-width="1" shape-rendering="crispEdges"/>
<polyline points="6.5,310.5 10.5,306.1 14.5,305.1 18.5,311.5 22.5,311.1 26.5,316.5 30.5,330.2 34.5,337.9 38.5,335.5 42.5,344.1 46.5,345.8 50.5,359.9 54.5,375.8 58.5,380.4 62.5,376.9 66.5,385.8 70.5,386.8 74.5,386.6 78.5,392.1 82.5,392.2 86.5,403.1 90.5,409.4 94.5,412.8 98.5,415.5 102.5,421.2 106.5,411.1 110.5,399.4 114.5,374.1 118.5,360.5 122.5,346.8 126.5,330.2 130.5,310.5 134.5,300.9 138.5,294.2 142.5,295.6 146.5,298.9 150.5,303.8 154.5,307.2 158.5,311.5 162.5,312.9 166.5,313.8 170.5,310.4 174.5,303.5 178.5,293.5 182.5,284.2 186.5,273.2 190.5,265.8 194.5,260.4 198.5,249.8 202.5,239.8 206.5,228.4 210.5,225.1 214.5,222.2 218.5,216.2 222.5,209.9 226.5,213.5 230.5,220.6 234.5,230.5 238.5,236.5 242.5,242.6 246.5,248.4 250.5,254.2 254.5,255.2 258.5,259.1 262.5,260.9 266.5,262.6 270.5,263.5 274.5,258.1 278.5,252.5 282.5,239.5 286.5,227.1 290.5,216.5 294.5,202.2 298.5,191.8 302.5,193.4 306.5,194.1 310.5,204.6 314.5,210.5 318.5,219.1 322.5,233.2 326.5,253.8 330.5,267.9 334.5,279.4 338.5,289.6 342.5,302.4 346.5,311.6 350.5,316.6 354.5,311.6 358.5,306.5 362.5,305.4 366.5,298.9 370.5,291.6 374.5,287.2 378.5,280.8 382.5,274.8 386.5,269.6 390.5,264.9 394.5,264.4 398.5,259.2 402.5,252.2 406.5,248.8 410.5,245.5 414.5,241.1 418.5,230.5 422.5,216.9 426.5,200.8 430.5,186.6 434.5,170.9 438.5,149.1 442.5,128.5 446.5,113.4 450.5,103.1 454.5,98.1 458.5,91.5 462.5,87.1 466.5,90.6 470.5,91.9 474.5,94.9 478.5,98.2 482.5,100.6 486.5,100.5 490.5,98.8 494.5,101.2 498.5,109.8 502.5,118.5 506.5,132.1 510.5,142.6 514.5,156.9 518.5,169.6 522.5,174.9 526.5,177.1 530.5,179.5 534.5,172.5 538.5,172.4 542.5,178.8 546.5,189.6 550.5,200.8 554.5,208.9 558.5,210.6 562.5,213.9 566.5,216.4 570.5,219.4 574.5,221.5 578.5,233.2 582.5,247.6 586.5,263.6 590.5,284.8 594.5,309.9 598.5,322.8 602.5,335.6 606.5,335.8 610.5,332.5 614.5,333.2 618.5,323.5 622.5,308.2 626.5,297.8 630.5,283.5 634.5,283.1 638.5,300.5 642.5,321.2 646.5,350.5 650.5,383.8 654.5,413.1 658.5,441.8 662.5,461.8 666.5,468.8 670.5,465.2 674.5,450.5 678.5,434.1 682.5,420.6 686.5,411.8 690.5,392.8 694.5,372.9 698.5,354.9 702.5,347.4 706.5,344.1 710.5,338.1 714.5,338.6 718.5,348.2 722.5,356.8 726.5,364.5 730.5,372.6 734.5,379.2 738.5,389.2 742.5,390.8 746.5,392.6 750.5,391.5 754.5,395.8 758.5,390.6 762.5,376.4 766.5,362.9 770.5,352.2 774.5,342.4 778.5,331.5 782.5,324.9 786.5,335.8 790.5,350.2 794.5,378.4 798.5,397.9 802.5,417.4 806.5,442.4 810.5,464.4 814.5,477.8 818.5,494.5 822.5,487.6 826.5,490.6 830.5,488.8 834.5,483.5 838.5,474.4 842.5,462.1 846.5,451.1 850.5,443.6 854.5,430.9 858.5,433.6 862.5,440.1 866.5,440.5 870.5,440.8 874.5,436.5 878.5,431.6 882.5,422.9 886.5,404.2 890.5,382.5 894.5,373.1 898.5,373.5 902.5,367.6 906.5,365.4 910.5,368.1 914.5,364.4 918.5,363.2 922.5,354.6 926.5,341.9 930.5,335.9 934.5,337.5 938.5,331.9 942.5,331.6 946.5,324.8 950.5,325.9 954.5,325.2 958.5,324.5 962.5,320.9 966.5,329.5 970.5,331.4 974.5,335.9 978.5,338.5 982.5,338.9 986.5,331.5 990.5,327.5 994.5,314.2 998.5,305.5 1002.5,303.2 1006.5,299.4 1010.5,294.6 1014.5,301.1 1018.5,300.6 1022.5,301.5 1026.5,302.5 1030.5,298.9 1034.5,294.2 1038.5,289.9 1042.5,287.6 1046.5,294.6 1050.5,308.2 1054.5,323.6 1058.5,338.5 1062.5,348.8 1066.5,358.8 1070.5,361.1 1074.5,352.2 1078.5,340.9 1082.5,328.6 1086.5,318.8 1090.5,319.1 1094.5,324.1 1098.5,332.4 1102.5,343.2 1106.5,350.5 1110.5,353.4 1114.5,355.5 1118.5,348.5 1122.5,334.8 1126.5,320.2 1130.5,305.8" fill="none" stroke="#0000cd" stroke-width="1" shape-rendering="crispEdges"/>
<g id="hlines" shape-rendering="crispEdges">
<rect x="6" y="98" width="1415" height="3" fill="#ff0000"/>
<rect x="6" y="202" width="1415" height="3" fill="#ff0000"/>
<rect x="5" y="200" width="7" height="7" fill="#ff0000"/><rect x="8" y="203" width="1" height="1" fill="#fff"/>
<rect x="1415" y="200" width="7" height="7" fill="#ff0000"/><rect x="1418" y="203" width="1" height="1" fill="#fff"/>
<rect x="6" y="297" width="1415" height="3" fill="#00ff00"/>
<rect x="5" y="295" width="7" height="7" fill="#00ff00"/><rect x="8" y="298" width="1" height="1" fill="#fff"/>
<rect x="1415" y="295" width="7" height="7" fill="#00ff00"/><rect x="1418" y="298" width="1" height="1" fill="#fff"/>
<rect x="6" y="427" width="1415" height="3" fill="#0000ff"/>
<rect x="5" y="425" width="7" height="7" fill="#0000ff"/><rect x="8" y="428" width="1" height="1" fill="#fff"/>
<rect x="1415" y="425" width="7" height="7" fill="#0000ff"/><rect x="1418" y="428" width="1" height="1" fill="#fff"/>
<rect x="6" y="514" width="1415" height="3" fill="#0000ff"/>
<rect x="5" y="512" width="7" height="7" fill="#0000ff"/><rect x="8" y="515" width="1" height="1" fill="#fff"/>
<rect x="1415" y="512" width="7" height="7" fill="#0000ff"/><rect x="1418" y="515" width="1" height="1" fill="#fff"/>
</g>
<g shape-rendering="crispEdges">
<rect x="1423" y="93" width="40" height="11" fill="#ff0000"/>
<rect x="1423" y="197" width="40" height="11" fill="#ff0000"/>
<rect x="1423" y="272" width="40" height="11" fill="#000"/>
<rect x="1423" y="292" width="40" height="11" fill="#00ff00"/>
<rect x="1423" y="422" width="40" height="11" fill="#0000ff"/>
<rect x="1423" y="509" width="40" height="11" fill="#0000ff"/>
</g>
<text x="1427.2" y="101.9" font-size="9.4" fill="#fff" textLength="32.3" lengthAdjust="spacingAndGlyphs">1.01806</text>
<text x="1427.2" y="205.9" font-size="9.4" fill="#fff" textLength="32.3" lengthAdjust="spacingAndGlyphs">1.00606</text>
<text x="1427.2" y="280.9" font-size="9.4" fill="#fff" textLength="32.3" lengthAdjust="spacingAndGlyphs">0.99739</text>
<text x="1427.2" y="300.9" font-size="9.4" fill="#fff" textLength="32.3" lengthAdjust="spacingAndGlyphs">0.99510</text>
<text x="1427.2" y="430.9" font-size="9.4" fill="#fff" textLength="32.3" lengthAdjust="spacingAndGlyphs">0.98009</text>
<text x="1427.2" y="517.9" font-size="9.4" fill="#fff" textLength="32.3" lengthAdjust="spacingAndGlyphs">0.97005</text>
<g id="macd" shape-rendering="crispEdges">
<rect x="6" y="613" width="1" height="8" fill="#c0c0c0"/>
<rect x="10" y="613" width="1" height="8" fill="#c0c0c0"/>
<rect x="14" y="613" width="1" height="7" fill="#c0c0c0"/>
<rect x="18" y="613" width="1" height="11" fill="#c0c0c0"/>
<rect x="22" y="613" width="1" height="8" fill="#c0c0c0"/>
<rect x="26" y="613" width="1" height="7" fill="#c0c0c0"/>
<rect x="30" y="613" width="1" height="11" fill="#c0c0c0"/>
<rect x="34" y="613" width="1" height="13" fill="#c0c0c0"/>
<rect x="38" y="613" width="1" height="10" fill="#c0c0c0"/>
<rect x="42" y="613" width="1" height="12" fill="#c0c0c0"/>
<rect x="46" y="613" width="1" height="14" fill="#c0c0c0"/>
<rect x="50" y="613" width="1" height="17" fill="#c0c0c0"/>
<rect x="54" y="613" width="1" height="21" fill="#c0c0c0"/>
<rect x="58" y="613" width="1" height="23" fill="#c0c0c0"/>
<rect x="62" y="613" width="1" height="20" fill="#c0c0c0"/>
<rect x="66" y="613" width="1" height="18" fill="#c0c0c0"/>
<rect x="70" y="613" width="1" height="17" fill="#c0c0c0"/>
<rect x="74" y="613" width="1" height="17" fill="#c0c0c0"/>
<rect x="78" y="613" width="1" height="20" fill="#c0c0c0"/>
<rect x="82" y="613" width="1" height="22" fill="#c0c0c0"/>
<rect x="86" y="613" width="1" height="27" fill="#c0c0c0"/>
<rect x="90" y="613" width="1" height="24" fill="#c0c0c0"/>
<rect x="94" y="613" width="1" height="22" fill="#c0c0c0"/>
<rect x="98" y="613" width="1" height="20" fill="#c0c0c0"/>
<rect x="102" y="613" width="1" height="20" fill="#c0c0c0"/>
<rect x="106" y="613" width="1" height="16" fill="#c0c0c0"/>
<rect x="110" y="613" width="1" height="11" fill="#c0c0c0"/>
<rect x="114" y="613" width="1" height="5" fill="#c0c0c0"/>
<rect x="118" y="613" width="1" height="1" fill="#c0c0c0"/>
<rect x="122" y="608" width="1" height="6" fill="#c0c0c0"/>
<rect x="126" y="603" width="1" height="11" fill="#c0c0c0"/>
<rect x="130" y="600" width="1" height="14" fill="#c0c0c0"/>
<rect x="134" y="599" width="1" height="15" fill="#c0c0c0"/>
<rect x="138" y="598" width="1" height="16" fill="#c0c0c0"/>
<rect x="142" y="599" width="1" height="15" fill="#c0c0c0"/>
<rect x="146" y="600" width="1" height="14" fill="#c0c0c0"/>
<rect x="150" y="601" width="1" height="13" fill="#c0c0c0"/>
<rect x="154" y="601" width="1" height="13" fill="#c0c0c0"/>
<rect x="158" y="601" width="1" height="13" fill="#c0c0c0"/>
<rect x="162" y="601" width="1" height="13" fill="#c0c0c0"/>
<rect x="166" y="601" width="1" height="13" fill="#c0c0c0"/>
<rect x="170" y="601" width="1" height="13" fill="#c0c0c0"/>
<rect x="174" y="599" width="1" height="15" fill="#c0c0c0"/>
<rect x="178" y="597" width="1" height="17" fill="#c0c0c0"/>
<rect x="182" y="594" width="1" height="20" fill="#c0c0c0"/>
<rect x="186" y="592" width="1" height="22" fill="#c0c0c0"/>
<rect x="190" y="592" width="1" height="22" fill="#c0c0c0"/>
<rect x="194" y="592" width="1" height="22" fill="#c0c0c0"/>
<rect x="198" y="590" width="1" height="24" fill="#c0c0c0"/>
<rect x="202" y="588" width="1" height="26" fill="#c0c0c0"/>
<rect x="206" y="584" width="1" height="30" fill="#c0c0c0"/>
<rect x="210" y="585" width="1" height="29" fill="#c0c0c0"/>
<rect x="214" y="585" width="1" height="29" fill="#c0c0c0"/>
<rect x="218" y="586" width="1" height="28" fill="#c0c0c0"/>
<rect x="222" y="587" width="1" height="27" fill="#c0c0c0"/>
<rect x="226" y="590" width="1" height="24" fill="#c0c0c0"/>
<rect x="230" y="593" width="1" height="21" fill="#c0c0c0"/>
<rect x="234" y="595" width="1" height="19" fill="#c0c0c0"/>
<rect x="238" y="598" width="1" height="16" fill="#c0c0c0"/>
<rect x="242" y="600" width="1" height="14" fill="#c0c0c0"/>
<rect x="246" y="602" width="1" height="12" fill="#c0c0c0"/>
<rect x="250" y="604" width="1" height="10" fill="#c0c0c0"/>
<rect x="254" y="605" width="1" height="9" fill="#c0c0c0"/>
<rect x="258" y="608" width="1" height="6" fill="#c0c0c0"/>
<rect x="262" y="609" width="1" height="5" fill="#c0c0c0"/>
<rect x="266" y="610" width="1" height="4" fill="#c0c0c0"/>
<rect x="270" y="611" width="1" height="3" fill="#c0c0c0"/>
<rect x="274" y="608" width="1" height="6" fill="#c0c0c0"/>
<rect x="278" y="606" width="1" height="8" fill="#c0c0c0"/>
<rect x="282" y="601" width="1" height="13" fill="#c0c0c0"/>
<rect x="286" y="599" width="1" height="15" fill="#c0c0c0"/>
<rect x="290" y="598" width="1" height="16" fill="#c0c0c0"/>
<rect x="294" y="595" width="1" height="19" fill="#c0c0c0"/>
<rect x="298" y="595" width="1" height="19" fill="#c0c0c0"/>
<rect x="302" y="598" width="1" height="16" fill="#c0c0c0"/>
<rect x="306" y="600" width="1" height="14" fill="#c0c0c0"/>
<rect x="310" y="602" width="1" height="12" fill="#c0c0c0"/>
<rect x="314" y="604" width="1" height="10" fill="#c0c0c0"/>
<rect x="318" y="607" width="1" height="7" fill="#c0c0c0"/>
<rect x="322" y="610" width="1" height="4" fill="#c0c0c0"/>
<rect x="326" y="613" width="1" height="4" fill="#c0c0c0"/>
<rect x="330" y="613" width="1" height="10" fill="#c0c0c0"/>
<rect x="334" y="613" width="1" height="12" fill="#c0c0c0"/>
<rect x="338" y="613" width="1" height="14" fill="#c0c0c0"/>
<rect x="342" y="613" width="1" height="16" fill="#c0c0c0"/>
<rect x="346" y="613" width="1" height="17" fill="#c0c0c0"/>
<rect x="350" y="613" width="1" height="17" fill="#c0c0c0"/>
<rect x="354" y="613" width="1" height="17" fill="#c0c0c0"/>
<rect x="358" y="613" width="1" height="16" fill="#c0c0c0"/>
<rect x="362" y="613" width="1" height="15" fill="#c0c0c0"/>
<rect x="366" y="613" width="1" height="12" fill="#c0c0c0"/>
<rect x="370" y="613" width="1" height="10" fill="#c0c0c0"/>
<rect x="374" y="613" width="1" height="9" fill="#c0c0c0"/>
<rect x="378" y="613" width="1" height="7" fill="#c0c0c0"/>
<rect x="382" y="613" width="1" height="5" fill="#c0c0c0"/>
<rect x="386" y="613" width="1" height="3" fill="#c0c0c0"/>
<rect x="390" y="613" width="1" height="2" fill="#c0c0c0"/>
<rect x="394" y="613" width="1" height="1" fill="#c0c0c0"/>
<rect x="398" y="612" width="1" height="2" fill="#c0c0c0"/>
<rect x="402" y="610" width="1" height="4" fill="#c0c0c0"/>
<rect x="406" y="608" width="1" height="6" fill="#c0c0c0"/>
<rect x="410" y="607" width="1" height="7" fill="#c0c0c0"/>
<rect x="414" y="606" width="1" height="8" fill="#c0c0c0"/>
<rect x="418" y="602" width="1" height="12" fill="#c0c0c0"/>
<rect x="422" y="598" width="1" height="16" fill="#c0c0c0"/>
<rect x="426" y="592" width="1" height="22" fill="#c0c0c0"/>
<rect x="430" y="589" width="1" height="25" fill="#c0c0c0"/>
<rect x="434" y="585" width="1" height="29" fill="#c0c0c0"/>
<rect x="438" y="580" width="1" height="34" fill="#c0c0c0"/>
<rect x="442" y="576" width="1" height="38" fill="#c0c0c0"/>
<rect x="446" y="574" width="1" height="40" fill="#c0c0c0"/>
<rect x="450" y="573" width="1" height="41" fill="#c0c0c0"/>
<rect x="454" y="573" width="1" height="41" fill="#c0c0c0"/>
<rect x="458" y="573" width="1" height="41" fill="#c0c0c0"/>
<rect x="462" y="574" width="1" height="40" fill="#c0c0c0"/>
<rect x="466" y="576" width="1" height="38" fill="#c0c0c0"/>
<rect x="470" y="577" width="1" height="37" fill="#c0c0c0"/>
<rect x="474" y="579" width="1" height="35" fill="#c0c0c0"/>
<rect x="478" y="582" width="1" height="32" fill="#c0c0c0"/>
<rect x="482" y="584" width="1" height="30" fill="#c0c0c0"/>
<rect x="486" y="584" width="1" height="30" fill="#c0c0c0"/>
<rect x="490" y="585" width="1" height="29" fill="#c0c0c0"/>
<rect x="494" y="588" width="1" height="26" fill="#c0c0c0"/>
<rect x="498" y="593" width="1" height="21" fill="#c0c0c0"/>
<rect x="502" y="598" width="1" height="16" fill="#c0c0c0"/>
<rect x="506" y="605" width="1" height="9" fill="#c0c0c0"/>
<rect x="510" y="609" width="1" height="5" fill="#c0c0c0"/>
<rect x="514" y="612" width="1" height="2" fill="#c0c0c0"/>
<rect x="518" y="613" width="1" height="1" fill="#c0c0c0"/>
<rect x="522" y="613" width="1" height="1" fill="#c0c0c0"/>
<rect x="526" y="613" width="1" height="2" fill="#c0c0c0"/>
<rect x="530" y="613" width="1" height="4" fill="#c0c0c0"/>
<rect x="534" y="613" width="1" height="4" fill="#c0c0c0"/>
<rect x="538" y="613" width="1" height="5" fill="#c0c0c0"/>
<rect x="542" y="613" width="1" height="9" fill="#c0c0c0"/>
<rect x="546" y="613" width="1" height="13" fill="#c0c0c0"/>
<rect x="550" y="613" width="1" height="16" fill="#c0c0c0"/>
<rect x="554" y="613" width="1" height="17" fill="#c0c0c0"/>
<rect x="558" y="613" width="1" height="16" fill="#c0c0c0"/>
<rect x="562" y="613" width="1" height="14" fill="#c0c0c0"/>
<rect x="566" y="613" width="1" height="13" fill="#c0c0c0"/>
<rect x="570" y="613" width="1" height="16" fill="#c0c0c0"/>
<rect x="574" y="613" width="1" height="18" fill="#c0c0c0"/>
<rect x="578" y="613" width="1" height="24" fill="#c0c0c0"/>
<rect x="582" y="613" width="1" height="29" fill="#c0c0c0"/>
<rect x="586" y="613" width="1" height="31" fill="#c0c0c0"/>
<rect x="590" y="613" width="1" height="34" fill="#c0c0c0"/>
<rect x="594" y="613" width="1" height="39" fill="#c0c0c0"/>
<rect x="598" y="613" width="1" height="40" fill="#c0c0c0"/>
<rect x="602" y="613" width="1" height="41" fill="#c0c0c0"/>
<rect x="606" y="613" width="1" height="40" fill="#c0c0c0"/>
<rect x="610" y="613" width="1" height="37" fill="#c0c0c0"/>
<rect x="614" y="613" width="1" height="34" fill="#c0c0c0"/>
<rect x="618" y="613" width="1" height="29" fill="#c0c0c0"/>
<rect x="622" y="613" width="1" height="25" fill="#c0c0c0"/>
<rect x="626" y="613" width="1" height="21" fill="#c0c0c0"/>
<rect x="630" y="613" width="1" height="17" fill="#c0c0c0"/>
<rect x="634" y="613" width="1" height="18" fill="#c0c0c0"/>
<rect x="638" y="613" width="1" height="26" fill="#c0c0c0"/>
<rect x="642" y="613" width="1" height="34" fill="#c0c0c0"/>
<rect x="646" y="613" width="1" height="41" fill="#c0c0c0"/>
<rect x="650" y="613" width="1" height="48" fill="#c0c0c0"/>
<rect x="654" y="613" width="1" height="51" fill="#c0c0c0"/>
<rect x="658" y="613" width="1" height="51" fill="#c0c0c0"/>
<rect x="662" y="613" width="1" height="52" fill="#c0c0c0"/>
<rect x="666" y="613" width="1" height="52" fill="#c0c0c0"/>
<rect x="670" y="613" width="1" height="49" fill="#c0c0c0"/>
<rect x="674" y="613" width="1" height="42" fill="#c0c0c0"/>
<rect x="678" y="613" width="1" height="37" fill="#c0c0c0"/>
<rect x="682" y="613" width="1" height="32" fill="#c0c0c0"/>
<rect x="686" y="613" width="1" height="29" fill="#c0c0c0"/>
<rect x="690" y="613" width="1" height="22" fill="#c0c0c0"/>
<rect x="694" y="613" width="1" height="16" fill="#c0c0c0"/>
<rect x="698" y="613" width="1" height="10" fill="#c0c0c0"/>
<rect x="702" y="613" width="1" height="5" fill="#c0c0c0"/>
<rect x="706" y="613" width="1" height="5" fill="#c0c0c0"/>
<rect x="710" y="613" width="1" height="3" fill="#c0c0c0"/>
<rect x="714" y="613" width="1" height="5" fill="#c0c0c0"/>
<rect x="718" y="613" width="1" height="7" fill="#c0c0c0"/>
<rect x="722" y="613" width="1" height="8" fill="#c0c0c0"/>
<rect x="726" y="613" width="1" height="7" fill="#c0c0c0"/>
<rect x="730" y="613" width="1" height="7" fill="#c0c0c0"/>
<rect x="734" y="613" width="1" height="9" fill="#c0c0c0"/>
<rect x="738" y="613" width="1" height="10" fill="#c0c0c0"/>
<rect x="742" y="613" width="1" height="11" fill="#c0c0c0"/>
<rect x="746" y="613" width="1" height="12" fill="#c0c0c0"/>
<rect x="750" y="613" width="1" height="11" fill="#c0c0c0"/>
<rect x="754" y="613" width="1" height="10" fill="#c0c0c0"/>
<rect x="758" y="613" width="1" height="6" fill="#c0c0c0"/>
<rect x="762" y="613" width="1" height="1" fill="#c0c0c0"/>
<rect x="766" y="610" width="1" height="4" fill="#c0c0c0"/>
<rect x="770" y="608" width="1" height="6" fill="#c0c0c0"/>
<rect x="774" y="607" width="1" height="7" fill="#c0c0c0"/>
<rect x="778" y="605" width="1" height="9" fill="#c0c0c0"/>
<rect x="782" y="605" width="1" height="9" fill="#c0c0c0"/>
<rect x="786" y="610" width="1" height="4" fill="#c0c0c0"/>
<rect x="790" y="613" width="1" height="1" fill="#c0c0c0"/>
<rect x="794" y="613" width="1" height="11" fill="#c0c0c0"/>
<rect x="798" y="613" width="1" height="16" fill="#c0c0c0"/>
<rect x="802" y="613" width="1" height="20" fill="#c0c0c0"/>
<rect x="806" y="613" width="1" height="23" fill="#c0c0c0"/>
<rect x="810" y="613" width="1" height="27" fill="#c0c0c0"/>
<rect x="814" y="613" width="1" height="30" fill="#c0c0c0"/>
<rect x="818" y="613" width="1" height="33" fill="#c0c0c0"/>
<rect x="822" y="613" width="1" height="31" fill="#c0c0c0"/>
<rect x="826" y="613" width="1" height="31" fill="#c0c0c0"/>
<rect x="830" y="613" width="1" height="28" fill="#c0c0c0"/>
<rect x="834" y="613" width="1" height="25" fill="#c0c0c0"/>
<rect x="838" y="613" width="1" height="22" fill="#c0c0c0"/>
<rect x="842" y="613" width="1" height="18" fill="#c0c0c0"/>
<rect x="846" y="613" width="1" height="16" fill="#c0c0c0"/>
<rect x="850" y="613" width="1" height="12" fill="#c0c0c0"/>
<rect x="854" y="613" width="1" height="9" fill="#c0c0c0"/>
<rect x="858" y="613" width="1" height="11" fill="#c0c0c0"/>
<rect x="862" y="613" width="1" height="13" fill="#c0c0c0"/>
<rect x="866" y="613" width="1" height="11" fill="#c0c0c0"/>
<rect x="870" y="613" width="1" height="9" fill="#c0c0c0"/>
<rect x="874" y="613" width="1" height="6" fill="#c0c0c0"/>
<rect x="878" y="613" width="1" height="2" fill="#c0c0c0"/>
<rect x="882" y="608" width="1" height="6" fill="#c0c0c0"/>
<rect x="886" y="604" width="1" height="10" fill="#c0c0c0"/>
<rect x="890" y="600" width="1" height="14" fill="#c0c0c0"/>
<rect x="894" y="600" width="1" height="14" fill="#c0c0c0"/>
<rect x="898" y="603" width="1" height="11" fill="#c0c0c0"/>
<rect x="902" y="602" width="1" height="12" fill="#c0c0c0"/>
<rect x="906" y="601" width="1" height="13" fill="#c0c0c0"/>
<rect x="910" y="600" width="1" height="14" fill="#c0c0c0"/>
<rect x="914" y="596" width="1" height="18" fill="#c0c0c0"/>
<rect x="918" y="595" width="1" height="19" fill="#c0c0c0"/>
<rect x="922" y="592" width="1" height="22" fill="#c0c0c0"/>
<rect x="926" y="592" width="1" height="22" fill="#c0c0c0"/>
<rect x="930" y="592" width="1" height="22" fill="#c0c0c0"/>
<rect x="934" y="595" width="1" height="19" fill="#c0c0c0"/>
<rect x="938" y="594" width="1" height="20" fill="#c0c0c0"/>
<rect x="942" y="594" width="1" height="20" fill="#c0c0c0"/>
<rect x="946" y="591" width="1" height="23" fill="#c0c0c0"/>
<rect x="950" y="592" width="1" height="22" fill="#c0c0c0"/>
<rect x="954" y="593" width="1" height="21" fill="#c0c0c0"/>
<rect x="958" y="594" width="1" height="20" fill="#c0c0c0"/>
<rect x="962" y="597" width="1" height="17" fill="#c0c0c0"/>
<rect x="966" y="601" width="1" height="13" fill="#c0c0c0"/>
<rect x="970" y="601" width="1" height="13" fill="#c0c0c0"/>
<rect x="974" y="601" width="1" height="13" fill="#c0c0c0"/>
<rect x="978" y="602" width="1" height="12" fill="#c0c0c0"/>
<rect x="982" y="602" width="1" height="12" fill="#c0c0c0"/>
<rect x="986" y="599" width="1" height="15" fill="#c0c0c0"/>
<rect x="990" y="600" width="1" height="14" fill="#c0c0c0"/>
<rect x="994" y="598" width="1" height="16" fill="#c0c0c0"/>
<rect x="998" y="596" width="1" height="18" fill="#c0c0c0"/>
<rect x="1002" y="596" width="1" height="18" fill="#c0c0c0"/>
<rect x="1006" y="598" width="1" height="16" fill="#c0c0c0"/>
<rect x="1010" y="598" width="1" height="16" fill="#c0c0c0"/>
<rect x="1014" y="600" width="1" height="14" fill="#c0c0c0"/>
<rect x="1018" y="602" width="1" height="12" fill="#c0c0c0"/>
<rect x="1022" y="601" width="1" height="13" fill="#c0c0c0"/>
<rect x="1026" y="600" width="1" height="14" fill="#c0c0c0"/>
<rect x="1030" y="599" width="1" height="15" fill="#c0c0c0"/>
<rect x="1034" y="599" width="1" height="15" fill="#c0c0c0"/>
<rect x="1038" y="598" width="1" height="16" fill="#c0c0c0"/>
<rect x="1042" y="600" width="1" height="14" fill="#c0c0c0"/>
<rect x="1046" y="606" width="1" height="8" fill="#c0c0c0"/>
<rect x="1050" y="612" width="1" height="2" fill="#c0c0c0"/>
<rect x="1054" y="613" width="1" height="4" fill="#c0c0c0"/>
<rect x="1058" y="613" width="1" height="7" fill="#c0c0c0"/>
<rect x="1062" y="613" width="1" height="7" fill="#c0c0c0"/>
<rect x="1066" y="613" width="1" height="7" fill="#c0c0c0"/>
<rect x="1070" y="613" width="1" height="5" fill="#c0c0c0"/>
<rect x="1074" y="613" width="1" height="3" fill="#c0c0c0"/>
<rect x="1078" y="613" width="1" height="1" fill="#c0c0c0"/>
<rect x="1082" y="612" width="1" height="2" fill="#c0c0c0"/>
<rect x="1086" y="611" width="1" height="3" fill="#c0c0c0"/>
<rect x="1090" y="613" width="1" height="1" fill="#c0c0c0"/>
<rect x="1094" y="613" width="1" height="4" fill="#c0c0c0"/>
<rect x="1098" y="613" width="1" height="7" fill="#c0c0c0"/>
<rect x="1102" y="613" width="1" height="9" fill="#c0c0c0"/>
<rect x="1106" y="613" width="1" height="9" fill="#c0c0c0"/>
<rect x="1110" y="613" width="1" height="7" fill="#c0c0c0"/>
<rect x="1114" y="613" width="1" height="5" fill="#c0c0c0"/>
<rect x="1118" y="613" width="1" height="2" fill="#c0c0c0"/>
<rect x="1122" y="611" width="1" height="3" fill="#c0c0c0"/>
<rect x="1126" y="608" width="1" height="6" fill="#c0c0c0"/>
<rect x="1130" y="606" width="1" height="8" fill="#c0c0c0"/>
</g>
<polyline points="6.5,625.6 10.5,625.0 14.5,624.2 18.5,623.8 22.5,623.2 26.5,622.6 30.5,622.4 34.5,622.5 38.5,622.4 42.5,622.8 46.5,623.5 50.5,624.6 54.5,625.7 58.5,627.3 62.5,628.7 66.5,629.5 70.5,630.0 74.5,630.7 78.5,631.6 82.5,632.4 86.5,633.5 90.5,633.9 94.5,633.9 98.5,633.9 102.5,634.1 106.5,634.0 110.5,633.4 114.5,631.7 118.5,629.2 122.5,625.7 126.5,621.9 130.5,618.0 134.5,614.2 138.5,610.2 142.5,606.8 146.5,604.1 150.5,602.2 154.5,600.9 158.5,600.1 162.5,599.9 166.5,600.0 170.5,600.2 174.5,600.4 178.5,600.3 182.5,599.6 186.5,598.6 190.5,597.6 194.5,596.7 198.5,595.4 202.5,594.0 206.5,592.1 210.5,590.5 214.5,589.2 218.5,588.2 222.5,587.7 226.5,587.4 230.5,587.5 234.5,588.0 238.5,589.1 242.5,590.9 246.5,592.8 250.5,594.9 254.5,597.0 258.5,599.3 262.5,601.4 266.5,603.3 270.5,605.0 274.5,606.2 278.5,606.9 282.5,606.8 286.5,606.3 290.5,605.5 294.5,604.1 298.5,602.6 302.5,601.3 306.5,600.1 310.5,599.4 314.5,599.2 318.5,599.8 322.5,601.0 326.5,603.2 330.5,606.2 334.5,609.5 338.5,612.8 342.5,616.1 346.5,619.2 350.5,622.1 354.5,624.6 358.5,626.7 362.5,627.9 366.5,628.1 370.5,628.0 374.5,627.4 378.5,626.4 382.5,625.0 386.5,623.4 390.5,621.8 394.5,620.2 398.5,618.4 402.5,616.7 406.5,615.1 410.5,613.4 414.5,611.9 418.5,610.1 422.5,608.2 426.5,605.6 430.5,602.8 434.5,599.8 438.5,596.5 442.5,592.9 446.5,589.3 450.5,585.7 454.5,582.4 458.5,579.6 462.5,577.6 466.5,576.2 470.5,575.3 474.5,575.2 478.5,575.8 482.5,576.9 486.5,578.1 490.5,579.4 494.5,581.1 498.5,583.2 502.5,585.6 506.5,588.8 510.5,592.1 514.5,595.4 518.5,598.8 522.5,602.1 526.5,605.5 530.5,608.7 534.5,611.3 538.5,613.5 542.5,615.4 546.5,617.3 550.5,619.2 554.5,621.0 558.5,622.5 562.5,623.8 566.5,624.8 570.5,626.1 574.5,627.6 578.5,629.3 582.5,631.1 586.5,632.7 590.5,634.6 594.5,637.2 598.5,640.2 602.5,643.4 606.5,646.0 610.5,648.0 614.5,649.2 618.5,649.2 622.5,648.5 626.5,647.1 630.5,644.7 634.5,642.2 638.5,640.6 642.5,639.9 646.5,640.4 650.5,641.9 654.5,644.3 658.5,647.3 662.5,650.6 666.5,654.5 670.5,657.9 674.5,659.6 678.5,659.9 682.5,658.9 686.5,656.8 690.5,653.6 694.5,649.7 698.5,645.1 702.5,639.9 706.5,635.0 710.5,630.7 714.5,627.2 718.5,624.4 722.5,622.2 726.5,620.5 730.5,619.4 734.5,619.3 738.5,619.8 742.5,620.5 746.5,621.5 750.5,622.0 754.5,622.4 758.5,622.1 762.5,621.4 766.5,620.3 770.5,618.8 774.5,617.1 778.5,614.9 782.5,612.7 786.5,611.3 790.5,610.2 794.5,610.8 798.5,612.5 802.5,615.0 806.5,618.1 810.5,621.7 814.5,626.0 818.5,630.5 822.5,634.2 826.5,637.5 830.5,639.4 834.5,640.5 838.5,640.7 842.5,640.1 846.5,638.9 850.5,637.0 854.5,634.3 858.5,632.1 862.5,630.1 866.5,628.2 870.5,626.4 874.5,624.7 878.5,622.9 882.5,620.6 886.5,618.2 890.5,615.8 894.5,613.1 898.5,610.5 902.5,608.1 906.5,605.7 910.5,603.6 914.5,601.5 918.5,600.1 922.5,598.8 926.5,597.9 930.5,597.1 934.5,596.3 938.5,595.4 942.5,594.6 946.5,593.6 950.5,593.1 954.5,592.9 958.5,593.1 962.5,593.6 966.5,594.5 970.5,595.2 974.5,595.9 978.5,596.7 982.5,598.0 986.5,598.8 990.5,599.6 994.5,600.0 998.5,599.9 1002.5,599.4 1006.5,599.0 1010.5,598.7 1014.5,598.6 1018.5,598.5 1022.5,598.7 1026.5,598.7 1030.5,598.9 1034.5,599.1 1038.5,599.3 1042.5,599.6 1046.5,600.5 1050.5,601.8 1054.5,603.4 1058.5,605.5 1062.5,607.8 1066.5,610.1 1070.5,612.3 1074.5,614.3 1078.5,615.9 1082.5,616.6 1086.5,616.5 1090.5,616.2 1094.5,615.8 1098.5,615.8 1102.5,616.0 1106.5,616.4 1110.5,616.9 1114.5,617.3 1118.5,617.6 1122.5,617.6 1126.5,616.9 1130.5,615.7" fill="none" stroke="#ff0000" stroke-width="1" shape-rendering="crispEdges" stroke-dasharray="3 3"/>
<text x="10" y="579" font-size="9.4" fill="#000" textLength="151" lengthAdjust="spacingAndGlyphs">MACD(12,26,9) 0.001051 -0.000292</text>
<rect x="1422" y="613" width="2" height="1" fill="#000" shape-rendering="crispEdges"/>
<text x="1425.5" y="577" font-size="9.4" fill="#000" textLength="32" lengthAdjust="spacingAndGlyphs">0.00613</text>
<text x="1425.5" y="616.8" font-size="9.4" fill="#000" textLength="17" lengthAdjust="spacingAndGlyphs">0.00</text>
<text x="1425.5" y="666.6" font-size="9.4" fill="#000" textLength="42.5" lengthAdjust="spacingAndGlyphs">-0.007612</text>
<g shape-rendering="crispEdges"><line x1="7" x2="1421" y1="712.5" y2="712.5" stroke="#c0c0c0" stroke-dasharray="3 3"/><line x1="7" x2="1421" y1="763.5" y2="763.5" stroke="#c0c0c0" stroke-dasharray="3 3"/></g>
<polyline points="6.5,743.0 10.5,743.4 14.5,740.3 18.5,751.0 22.5,737.4 26.5,739.3 30.5,749.3 34.5,748.5 38.5,736.7 42.5,745.4 46.5,747.1 50.5,749.3 54.5,752.2 58.5,749.8 62.5,739.4 66.5,741.9 70.5,743.1 74.5,743.9 78.5,751.9 82.5,749.1 86.5,756.8 90.5,741.3 94.5,740.8 98.5,741.3 102.5,744.9 106.5,736.4 110.5,732.9 114.5,728.6 118.5,727.3 122.5,726.8 126.5,724.5 130.5,725.3 134.5,729.0 138.5,728.2 142.5,733.7 146.5,734.3 150.5,735.9 154.5,730.4 158.5,732.9 162.5,732.2 166.5,730.2 170.5,729.1 174.5,724.5 178.5,721.5 182.5,717.4 186.5,717.1 190.5,724.7 194.5,726.4 198.5,718.0 202.5,715.1 206.5,711.2 210.5,722.6 214.5,722.9 218.5,722.9 222.5,723.9 226.5,733.0 230.5,735.4 234.5,733.7 238.5,736.3 242.5,736.9 246.5,735.9 250.5,737.4 254.5,735.2 258.5,745.1 262.5,737.8 266.5,740.2 270.5,738.7 274.5,724.4 278.5,725.6 282.5,713.4 286.5,724.3 290.5,722.9 294.5,719.2 298.5,726.6 302.5,736.7 306.5,736.0 310.5,738.9 314.5,738.6 318.5,741.9 322.5,747.0 326.5,760.0 330.5,757.5 334.5,750.8 338.5,751.4 342.5,754.5 346.5,750.6 350.5,747.5 354.5,746.8 358.5,743.8 362.5,745.5 366.5,734.9 370.5,737.9 374.5,740.2 378.5,733.1 382.5,733.5 386.5,732.6 390.5,735.8 394.5,734.1 398.5,727.3 402.5,725.8 406.5,726.3 410.5,727.2 414.5,723.6 418.5,714.4 422.5,709.1 426.5,702.9 430.5,707.0 434.5,705.5 438.5,700.1 442.5,699.9 446.5,701.8 450.5,705.7 454.5,705.2 458.5,704.9 462.5,707.7 466.5,715.8 470.5,711.6 474.5,719.5 478.5,724.0 482.5,721.5 486.5,716.4 490.5,714.9 494.5,733.2 498.5,740.9 502.5,745.6 506.5,755.4 510.5,746.1 514.5,747.4 518.5,742.4 522.5,740.1 526.5,740.9 530.5,746.0 534.5,739.2 538.5,744.0 542.5,755.0 546.5,757.4 550.5,755.4 554.5,749.6 558.5,742.1 562.5,739.2 566.5,742.2 570.5,753.8 574.5,755.2 578.5,764.1 582.5,764.2 586.5,759.5 590.5,763.1 594.5,767.9 598.5,759.1 602.5,760.2 606.5,752.5 610.5,746.7 614.5,749.1 618.5,738.2 622.5,738.4 626.5,739.2 630.5,734.9 634.5,748.5 638.5,761.5 642.5,764.9 646.5,766.0 650.5,768.5 654.5,762.8 658.5,757.6 662.5,758.6 666.5,759.9 670.5,751.1 674.5,738.7 678.5,741.4 682.5,740.9 686.5,742.4 690.5,731.5 694.5,732.4 698.5,728.5 702.5,729.9 706.5,739.0 710.5,735.1 714.5,744.3 718.5,744.3 722.5,743.9 726.5,737.7 730.5,739.6 734.5,746.0 738.5,746.3 742.5,745.4 746.5,745.8 750.5,740.1 754.5,741.6 758.5,729.5 762.5,724.7 766.5,726.7 770.5,730.5 774.5,732.5 778.5,726.5 782.5,735.5 786.5,747.7 790.5,747.1 794.5,760.7 798.5,751.6 802.5,752.5 806.5,753.6 810.5,755.7 814.5,756.4 818.5,759.0 822.5,745.5 826.5,749.0 830.5,743.7 834.5,740.9 838.5,738.8 842.5,735.8 846.5,741.3 850.5,734.6 854.5,732.3 858.5,746.1 862.5,747.7 866.5,738.3 870.5,735.5 874.5,735.1 878.5,728.8 882.5,723.3 886.5,725.6 890.5,724.2 894.5,731.0 898.5,740.2 902.5,732.8 906.5,730.6 910.5,729.8 914.5,725.0 918.5,726.6 922.5,723.9 926.5,728.9 930.5,728.9 934.5,736.8 938.5,727.7 942.5,728.3 946.5,722.7 950.5,730.4 954.5,732.4 958.5,732.4 962.5,736.2 966.5,742.0 970.5,733.6 974.5,730.4 978.5,735.1 982.5,734.2 986.5,725.0 990.5,733.5 994.5,728.1 998.5,726.4 1002.5,731.7 1006.5,734.0 1010.5,732.1 1014.5,736.8 1018.5,735.6 1022.5,730.7 1026.5,728.7 1030.5,727.6 1034.5,728.7 1038.5,727.0 1042.5,736.7 1046.5,748.4 1050.5,751.7 1054.5,752.1 1058.5,749.4 1062.5,742.3 1066.5,739.9 1070.5,735.9 1074.5,731.8 1078.5,732.5 1082.5,731.4 1086.5,733.4 1090.5,744.4 1094.5,749.3 1098.5,750.5 1102.5,750.2 1106.5,743.3 1110.5,733.9 1114.5,734.4 1118.5,729.4 1122.5,724.2 1126.5,724.2 1130.5,724.2" fill="none" stroke="#1e90ff" stroke-width="1" shape-rendering="crispEdges"/>
<text x="10" y="685" font-size="9.4" fill="#000" textLength="67" lengthAdjust="spacingAndGlyphs">RSI(14) 60.6001</text>
<text x="1425.5" y="683" font-size="9.4" fill="#000" textLength="14" lengthAdjust="spacingAndGlyphs">100</text>
<text x="1425.5" y="716" font-size="9.4" fill="#000" textLength="9.5" lengthAdjust="spacingAndGlyphs">70</text>
<text x="1425.5" y="766.8" font-size="9.4" fill="#000" textLength="9.5" lengthAdjust="spacingAndGlyphs">30</text>
<text x="1425.5" y="799" font-size="9.4" fill="#000" textLength="4.8" lengthAdjust="spacingAndGlyphs">0</text>
<g shape-rendering="crispEdges">
<rect x="6" y="803" width="1" height="3" fill="#000"/>
<rect x="70" y="803" width="1" height="3" fill="#000"/>
<rect x="134" y="803" width="1" height="3" fill="#000"/>
<rect x="198" y="803" width="1" height="3" fill="#000"/>
<rect x="262" y="803" width="1" height="3" fill="#000"/>
<rect x="326" y="803" width="1" height="3" fill="#000"/>
<rect x="390" y="803" width="1" height="3" fill="#000"/>
<rect x="454" y="803" width="1" height="3" fill="#000"/>
<rect x="518" y="803" width="1" height="3" fill="#000"/>
<rect x="582" y="803" width="1" height="3" fill="#000"/>
<rect x="646" y="803" width="1" height="3" fill="#000"/>
<rect x="710" y="803" width="1" height="3" fill="#000"/>
<rect x="774" y="803" width="1" height="3" fill="#000"/>
<rect x="838" y="803" width="1" height="3" fill="#000"/>
<rect x="902" y="803" width="1" height="3" fill="#000"/>
<rect x="966" y="803" width="1" height="3" fill="#000"/>
<rect x="1030" y="803" width="1" height="3" fill="#000"/>
<rect x="1094" y="803" width="1" height="3" fill="#000"/>
</g>
<text x="5.8" y="815" font-size="9.4" fill="#000" textLength="50.5" lengthAdjust="spacingAndGlyphs">17 Dec 2018</text>
<text x="69.8" y="815" font-size="9.4" fill="#000" textLength="44" lengthAdjust="spacingAndGlyphs">4 Jan 2019</text>
<text x="133.8" y="815" font-size="9.4" fill="#000" textLength="49" lengthAdjust="spacingAndGlyphs">23 Jan 2019</text>
<text x="197.8" y="815" font-size="9.4" fill="#000" textLength="51" lengthAdjust="spacingAndGlyphs">11 Feb 2019</text>
<text x="261.8" y="815" font-size="9.4" fill="#000" textLength="46" lengthAdjust="spacingAndGlyphs">1 Mar 2019</text>
<text x="325.8" y="815" font-size="9.4" fill="#000" textLength="51" lengthAdjust="spacingAndGlyphs">20 Mar 2019</text>
<text x="389.8" y="815" font-size="9.4" fill="#000" textLength="45" lengthAdjust="spacingAndGlyphs">8 Apr 2019</text>
<text x="453.8" y="815" font-size="9.4" fill="#000" textLength="50" lengthAdjust="spacingAndGlyphs">28 Apr 2019</text>
<text x="517.8" y="815" font-size="9.4" fill="#000" textLength="54" lengthAdjust="spacingAndGlyphs">16 May 2019</text>
<text x="581.8" y="815" font-size="9.4" fill="#000" textLength="44" lengthAdjust="spacingAndGlyphs">4 Jun 2019</text>
<text x="645.8" y="815" font-size="9.4" fill="#000" textLength="49" lengthAdjust="spacingAndGlyphs">23 Jun 2019</text>
<text x="709.8" y="815" font-size="9.4" fill="#000" textLength="46" lengthAdjust="spacingAndGlyphs">11 Jul 2019</text>
<text x="773.8" y="815" font-size="9.4" fill="#000" textLength="47" lengthAdjust="spacingAndGlyphs">30 Jul 2019</text>
<text x="837.8" y="815" font-size="9.4" fill="#000" textLength="53" lengthAdjust="spacingAndGlyphs">18 Aug 2019</text>
<text x="901.8" y="815" font-size="9.4" fill="#000" textLength="47" lengthAdjust="spacingAndGlyphs">5 Sep 2019</text>
<text x="965.8" y="815" font-size="9.4" fill="#000" textLength="52" lengthAdjust="spacingAndGlyphs">24 Sep 2019</text>
<text x="1029.8" y="815" font-size="9.4" fill="#000" textLength="51" lengthAdjust="spacingAndGlyphs">13 Oct 2019</text>
<text x="1093.8" y="815" font-size="9.4" fill="#000" textLength="51" lengthAdjust="spacingAndGlyphs">31 Oct 2019</text>
<path d="M9 35h7l-3.5-4.5z" fill="#000"/>
<text x="21.6" y="36.3" font-size="9.4" fill="#000" textLength="67.3" lengthAdjust="spacingAndGlyphs">USDCHF-,Daily</text>
<text x="95" y="36.3" font-size="9.4" fill="#000" textLength="140.7" lengthAdjust="spacingAndGlyphs">0.99708 0.99759 0.99705 0.99739</text>
<g id="oct" shape-rendering="crispEdges">
<rect x="7" y="43" width="223" height="66" fill="#fff"/>
<rect x="9.5" y="44.5" width="51" height="24" fill="url(#rg2)" stroke="#c81818" stroke-width="1"/><rect x="9" y="68" width="109" height="40" fill="url(#rg)"/>
<rect x="176.5" y="44.5" width="51" height="24" fill="url(#rg2)" stroke="#c81818" stroke-width="1"/><rect x="120" y="68" width="108" height="40" fill="url(#rg)"/>
<rect x="10" y="67" width="50" height="2" fill="#e43434"/><rect x="177" y="67" width="50" height="2" fill="#e43434"/>
<rect x="13" y="67" width="44" height="1" fill="#8c0000"/><rect x="13" y="68" width="44" height="1" fill="#f06464"/><rect x="180" y="67" width="44" height="1" fill="#8c0000"/><rect x="180" y="68" width="44" height="1" fill="#f06464"/>
<rect x="63.5" y="44.5" width="110" height="21" fill="#fff" stroke="#a8aeb8"/>
<rect x="65" y="46" width="19" height="19" fill="url(#bg)"/><rect x="84" y="45" width="1" height="21" fill="#a8aeb8"/>
<rect x="154" y="46" width="19" height="19" fill="url(#bg)"/><rect x="152" y="45" width="1" height="21" fill="#a8aeb8"/>
</g>
<path d="M71 53h5.4l-2.7 3.2z" fill="#4461c4"/><path d="M160 56.2h5.4l-2.7-3.2z" fill="#4461c4"/>
<text x="21.5" y="59.8" font-size="11.8" fill="#fff" textLength="25.5" lengthAdjust="spacingAndGlyphs">SELL</text>
<text x="189.6" y="59.8" font-size="11.8" fill="#fff" textLength="23" lengthAdjust="spacingAndGlyphs">BUY</text>
<text x="149" y="59" font-size="12" fill="#000" text-anchor="end">1.00</text>
<text x="28.9" y="99" font-size="12" fill="#fff" textLength="23.9" lengthAdjust="spacingAndGlyphs" font-weight="bold">0.99</text>
<text x="56" y="99" font-size="34" fill="#fff" textLength="34.5" lengthAdjust="spacingAndGlyphs">73</text>
<text x="96" y="83" font-size="11.5" fill="#fff" font-weight="bold">9</text>
<text x="139" y="99" font-size="12" fill="#fff" textLength="23.9" lengthAdjust="spacingAndGlyphs" font-weight="bold">0.99</text>
<text x="167.2" y="99" font-size="34" fill="#fff" textLength="35" lengthAdjust="spacingAndGlyphs">76</text>
<text x="207" y="83" font-size="11.5" fill="#fff" font-weight="bold">4</text>
<g id="tabs" shape-rendering="crispEdges">
<rect x="1" y="823" width="1463" height="1" fill="#e3e3e3"/>
<rect x="3" y="826" width="1463" height="19" fill="#f0f0f0"/>
<rect x="0" y="846" width="1463" height="3" fill="#f0f0f0"/>
<rect x="1" y="825" width="1463" height="1" fill="#000"/>
<rect x="1" y="826" width="1" height="19" fill="#a0a0a0"/><rect x="2" y="826" width="1" height="18" fill="#696969"/><rect x="0" y="844" width="3" height="1" fill="#a0a0a0"/>
<rect x="223" y="825" width="108" height="18" fill="#fff"/>
<rect x="223" y="825" width="1" height="18" fill="#000"/><rect x="330" y="825" width="1" height="18" fill="#000"/><rect x="223" y="842" width="108" height="1" fill="#000"/>
<rect x="115" y="828" width="1" height="14" fill="#808080"/>
<rect x="439" y="828" width="1" height="14" fill="#808080"/>
<rect x="550" y="828" width="1" height="14" fill="#808080"/>
<rect x="670" y="828" width="1" height="14" fill="#808080"/>
<rect x="779" y="828" width="1" height="14" fill="#808080"/>
<rect x="899" y="828" width="1" height="14" fill="#808080"/>
<rect x="979" y="828" width="1" height="14" fill="#808080"/>
<rect x="1083" y="828" width="1" height="14" fill="#808080"/>
<rect x="1175" y="828" width="1" height="14" fill="#808080"/>
<rect x="1267" y="828" width="1" height="14" fill="#808080"/>
</g>
<text x="18.4" y="839.8" font-size="12.3" fill="#7a7a82" textLength="84.6" lengthAdjust="spacingAndGlyphs">EURUSD-,Daily</text>
<text x="125.3" y="839.8" font-size="12.3" fill="#7a7a82" textLength="86.7" lengthAdjust="spacingAndGlyphs">AUDUSD-,Daily</text>
<text x="235" y="839.8" font-size="12.3" fill="#000" textLength="83.8" lengthAdjust="spacingAndGlyphs">USDCHF-,Daily</text>
<text x="342.5" y="839.8" font-size="12.3" fill="#7a7a82" textLength="85" lengthAdjust="spacingAndGlyphs">USDCAD-,Daily</text>
<text x="451" y="839.8" font-size="12.3" fill="#7a7a82" textLength="88" lengthAdjust="spacingAndGlyphs">USDCNH-,Daily</text>
<text x="561.5" y="839.8" font-size="12.3" fill="#7a7a82" textLength="97.5" lengthAdjust="spacingAndGlyphs">EURCHF-,Weekly</text>
<text x="681.5" y="839.8" font-size="12.3" fill="#7a7a82" textLength="86.5" lengthAdjust="spacingAndGlyphs">XAUUSD-,Daily</text>
<text x="789.5" y="839.8" font-size="12.3" fill="#7a7a82" textLength="98.5" lengthAdjust="spacingAndGlyphs">GBPUSD-,Weekly</text>
<text x="910.5" y="839.8" font-size="12.3" fill="#7a7a82" textLength="56.5" lengthAdjust="spacingAndGlyphs">UKOil-,H1</text>
<text x="989.5" y="839.8" font-size="12.3" fill="#7a7a82" textLength="82.5" lengthAdjust="spacingAndGlyphs">USDX-,Weekly</text>
<text x="1093.5" y="839.8" font-size="12.3" fill="#7a7a82" textLength="70" lengthAdjust="spacingAndGlyphs">EURCHF-,H1</text>
<text x="1187" y="839.8" font-size="12.3" fill="#7a7a82" textLength="68.5" lengthAdjust="spacingAndGlyphs">USOil-,Daily</text>
<path d="M1440 831v6.5l-3.5-3.25z" fill="#a0a0a0"/><path d="M1456 831v6.5l3.5-3.25z" fill="#a0a0a0"/>
</svg></body></html>
